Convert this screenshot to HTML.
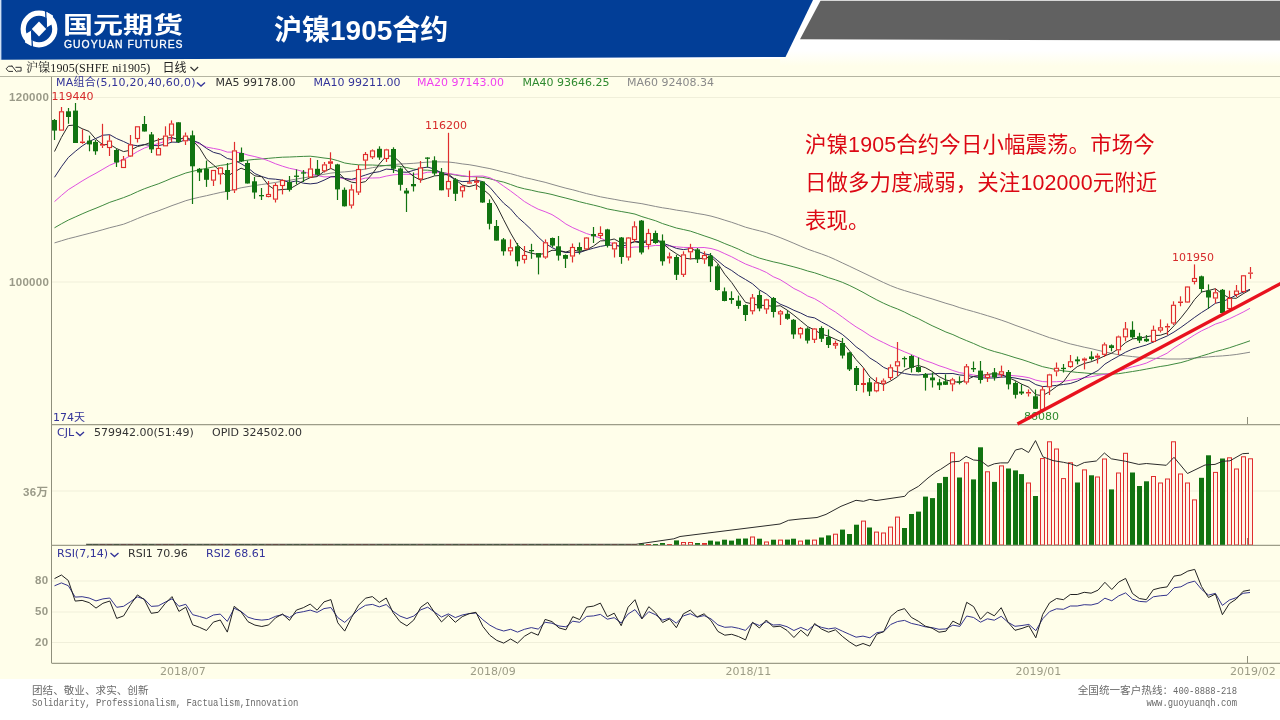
<!DOCTYPE html>
<html lang="zh-CN"><head><meta charset="utf-8"><title>沪镍1905合约</title>
<style>
html,body{margin:0;padding:0;background:#fff;}
body{width:1280px;height:720px;position:relative;overflow:hidden;font-family:"Liberation Sans","Noto Sans CJK SC",sans-serif;}
#chartbg{position:absolute;left:0;top:59px;width:1280px;height:620px;background:#fffeea;}
svg{position:absolute;left:0;top:0;}
.t{position:absolute;white-space:nowrap;line-height:1;}
.v{font-family:"DejaVu Sans","Noto Sans CJK SC",sans-serif;font-size:11px;}
.ax{font-family:"Liberation Sans","Noto Sans CJK SC",sans-serif;font-size:11.5px;color:#9a9a88;font-weight:bold;letter-spacing:0.3px;}
.dt{font-family:"DejaVu Sans",sans-serif;font-size:11px;color:#9c9c86;}
.ft{font-family:"Liberation Mono","Noto Sans CJK SC",monospace;color:#6a6a6a;}
#note{position:absolute;left:805px;top:125.5px;width:400px;font-family:"Liberation Sans","Noto Sans CJK SC",sans-serif;font-size:21.4px;line-height:38px;color:#dc0814;letter-spacing:0.15px;}
</style></head><body>
<div id="chartbg"></div><div style="position:absolute;left:780px;top:40px;width:500px;height:26px;background:linear-gradient(#fff 0%,#fff 40%,#fffeea 100%);"></div>
<svg width="1280" height="720" viewBox="0 0 1280 720">
<polygon points="820.5,0.8 1280,0.8 1280,40.6 800,39.3" fill="#616161"/>
<polygon points="1.2,0 813,0 785.5,57 1.2,59.7" fill="#023e97"/>
<rect x="0" y="0" width="1.2" height="60" fill="#cfe0f5"/>
<!-- logo -->
<g transform="translate(39,29)">
<circle r="15.8" fill="none" stroke="#fff" stroke-width="5.2"/>
<polygon points="0,-7.6 7.2,0 0,7.6 -7.2,0" fill="#fff"/>
<polygon points="7.6,-17 14,-13.5 13,-4.8 7.6,-1.6" fill="#fff"/>
<polygon points="-7.6,17 -14,13.5 -13,4.8 -7.6,1.6" fill="#fff"/>
<line x1="6.6" y1="-18.5" x2="7.4" y2="-2" stroke="#023e97" stroke-width="1.3"/>
<line x1="-6.6" y1="18.5" x2="-7.4" y2="2" stroke="#023e97" stroke-width="1.3"/>
</g>
<!-- toolbar icon -->
<g fill="none" stroke="#333" stroke-width="1">
<path d="M12.5,66.2 h-4 l-2.3,2.6 l2.3,2.6 h4.5"/><path d="M15.5,67.3 h5.6 v3.8 h-4"/><line x1="11.7" y1="65.6" x2="16.8" y2="72.2"/>
</g>
<path d="M190.5,67 l3.8,3.6 l3.8,-3.6" fill="none" stroke="#333" stroke-width="1.3"/>
<path d="M197,82.5 l4,3.6 l4,-3.6" fill="none" stroke="#333399" stroke-width="1.3"/>
<path d="M76,432 l4,3.6 l4,-3.6" fill="none" stroke="#333399" stroke-width="1.3"/>
<path d="M110.5,553 l4,3.6 l4,-3.6" fill="none" stroke="#333399" stroke-width="1.3"/>
<line x1="52" x2="1280" y1="97.5" y2="97.5" stroke="#f0efda" stroke-width="1"/>
<line x1="52" x2="1280" y1="282" y2="282" stroke="#f0efda" stroke-width="1"/>
<line x1="52" x2="1280" y1="491" y2="491" stroke="#f0efda" stroke-width="1"/>
<line x1="52" x2="1280" y1="581" y2="581" stroke="#f0efda" stroke-width="1"/>
<line x1="52" x2="1280" y1="612" y2="612" stroke="#f0efda" stroke-width="1"/>
<line x1="52" x2="1280" y1="642.5" y2="642.5" stroke="#f0efda" stroke-width="1"/>
<polyline points="54.5,242.9 61.4,240.8 68.3,238.7 75.2,237.0 82.1,235.2 89.1,233.4 96.0,231.6 102.9,229.7 109.8,227.7 116.7,226.0 123.6,224.2 130.5,221.5 137.4,218.6 144.3,215.8 151.2,213.3 158.2,210.9 165.1,208.3 172.0,205.6 178.9,203.2 185.8,200.7 192.7,198.8 199.6,197.2 206.5,195.7 213.4,194.1 220.3,192.5 227.3,191.3 234.2,189.5 241.1,187.8 248.0,186.6 254.9,185.5 261.8,184.5 268.7,183.5 275.6,182.4 282.5,181.3 289.5,180.3 296.4,179.1 303.3,177.9 310.2,176.7 317.1,175.6 324.0,174.3 330.9,173.1 337.8,172.3 344.7,171.9 351.6,171.2 358.6,170.2 365.5,169.0 372.4,167.7 379.3,166.6 386.2,165.4 393.1,164.6 400.0,164.0 406.9,163.7 413.8,163.3 420.8,162.7 427.7,162.1 434.6,161.8 441.5,161.9 448.4,162.0 455.3,162.8 462.2,163.9 469.1,164.7 476.0,165.9 482.9,167.3 489.9,168.6 496.8,170.3 503.7,172.1 510.6,173.7 517.5,175.6 524.4,177.5 531.3,179.0 538.2,180.7 545.1,182.3 552.0,184.3 559.0,186.3 565.9,188.2 572.8,189.8 579.7,191.7 586.6,193.6 593.5,195.2 600.4,196.8 607.3,198.1 614.2,199.3 621.2,200.6 628.1,201.7 635.0,202.7 641.9,203.7 648.8,205.1 655.7,206.5 662.6,207.8 669.5,208.8 676.4,210.1 683.3,211.1 690.3,212.2 697.2,213.5 704.1,214.6 711.0,216.1 717.9,218.0 724.8,220.2 731.7,222.3 738.6,224.7 745.5,227.2 752.5,229.1 759.4,230.8 766.3,232.6 773.2,235.0 780.1,237.6 787.0,240.4 793.9,243.3 800.8,246.3 807.7,249.2 814.6,251.6 821.6,254.0 828.5,256.6 835.4,259.6 842.3,262.9 849.2,266.1 856.1,269.4 863.0,272.7 869.9,276.0 876.8,279.3 883.7,282.6 890.7,285.7 897.6,288.4 904.5,290.6 911.4,292.7 918.3,294.7 925.2,296.9 932.1,298.9 939.0,301.1 945.9,303.3 952.9,305.3 959.8,307.7 966.7,309.7 973.6,311.6 980.5,313.6 987.4,315.7 994.3,317.8 1001.2,320.1 1008.1,322.5 1015.0,325.2 1022.0,327.7 1028.9,330.2 1035.8,332.7 1042.7,335.2 1049.6,337.7 1056.5,339.6 1063.4,341.9 1070.3,343.9 1077.2,345.5 1084.2,347.2 1091.1,348.6 1098.0,350.3 1104.9,351.9 1111.8,353.4 1118.7,354.8 1125.6,355.8 1132.5,356.6 1139.4,357.3 1146.3,357.9 1153.3,358.3 1160.2,358.6 1167.1,359.0 1174.0,359.0 1180.9,359.0 1187.8,358.6 1194.7,358.0 1201.6,357.5 1208.5,356.9 1215.4,356.3 1222.4,355.9 1229.3,355.3 1236.2,354.5 1243.1,353.4 1250.0,352.2" fill="none" stroke="#8a8a8a" stroke-width="1" />
<polyline points="54.5,227.8 61.4,223.8 68.3,220.1 75.2,217.0 82.1,213.9 89.1,210.9 96.0,208.2 102.9,205.3 109.8,202.3 116.7,200.0 123.6,197.6 130.5,194.9 137.4,191.7 144.3,188.8 151.2,186.3 158.2,183.9 165.1,181.1 172.0,178.1 178.9,175.6 185.8,173.0 192.7,171.3 199.6,169.7 206.5,168.4 213.4,166.9 220.3,165.4 227.3,164.5 234.2,162.6 241.1,161.1 248.0,160.1 254.9,159.4 261.8,158.9 268.7,158.3 275.6,157.7 282.5,157.2 289.5,157.0 296.4,156.7 303.3,156.4 310.2,156.2 317.1,157.0 324.0,158.0 330.9,158.8 337.8,160.7 344.7,163.0 351.6,164.1 358.6,164.8 365.5,165.0 372.4,165.0 379.3,165.4 386.2,165.6 393.1,165.7 400.0,166.4 406.9,167.6 413.8,169.1 420.8,170.0 427.7,170.2 434.6,170.9 441.5,172.2 448.4,173.7 455.3,175.0 462.2,176.2 469.1,176.6 476.0,176.8 482.9,177.4 489.9,178.8 496.8,180.6 503.7,182.1 510.6,184.5 517.5,187.0 524.4,188.8 531.3,190.2 538.2,191.8 545.1,193.0 552.0,194.5 559.0,196.4 565.9,198.1 572.8,199.9 579.7,201.8 586.6,203.5 593.5,205.1 600.4,206.8 607.3,208.9 614.2,210.2 621.2,211.5 628.1,212.7 635.0,214.1 641.9,216.6 648.8,218.7 655.7,220.8 662.6,223.6 669.5,225.8 676.4,228.0 683.3,229.5 690.3,231.1 697.2,233.4 704.1,235.8 711.0,238.1 717.9,240.6 724.8,243.6 731.7,246.3 738.6,249.2 745.5,252.6 752.5,255.5 759.4,258.1 766.3,260.0 773.2,261.8 780.1,263.3 787.0,265.1 793.9,266.9 800.8,268.8 807.7,271.0 814.6,272.8 821.6,275.2 828.5,277.7 835.4,279.8 842.3,282.3 849.2,285.3 856.1,288.7 863.0,292.3 869.9,296.2 876.8,299.9 883.7,303.3 890.7,306.4 897.6,309.0 904.5,312.1 911.4,315.6 918.3,318.6 925.2,322.2 932.1,325.7 939.0,328.8 945.9,332.0 952.9,334.6 959.8,337.8 966.7,340.7 973.6,343.5 980.5,346.6 987.4,349.3 994.3,351.5 1001.2,353.3 1008.1,355.4 1015.0,357.6 1022.0,359.6 1028.9,361.9 1035.8,364.4 1042.7,366.7 1049.6,368.2 1056.5,369.7 1063.4,370.9 1070.3,371.6 1077.2,372.4 1084.2,372.9 1091.1,373.6 1098.0,374.0 1104.9,374.0 1111.8,374.1 1118.7,373.7 1125.6,372.6 1132.5,371.5 1139.4,370.4 1146.3,369.1 1153.3,367.8 1160.2,366.5 1167.1,365.5 1174.0,364.0 1180.9,362.6 1187.8,360.6 1194.7,358.2 1201.6,356.0 1208.5,353.9 1215.4,351.6 1222.4,349.8 1229.3,347.8 1236.2,345.5 1243.1,343.2 1250.0,340.8" fill="none" stroke="#3f8a3f" stroke-width="1" />
<polyline points="54.5,201.6 61.4,195.5 68.3,189.7 75.2,185.4 82.1,181.0 89.1,176.9 96.0,173.2 102.9,169.2 109.8,165.2 116.7,162.3 123.6,159.4 130.5,155.8 137.4,151.6 144.3,148.1 151.2,145.7 158.2,143.6 165.1,141.3 172.0,138.7 178.9,138.5 185.8,139.1 192.7,140.9 199.6,143.9 206.5,147.1 213.4,148.4 220.3,149.7 227.3,152.1 234.2,152.1 241.1,152.9 248.0,155.1 254.9,156.6 261.8,158.4 268.7,160.9 275.6,163.8 282.5,166.2 289.5,168.3 296.4,169.7 303.3,171.6 310.2,173.8 317.1,175.5 324.0,176.9 330.9,176.7 337.8,177.5 344.7,178.8 351.6,179.8 358.6,179.9 365.5,178.0 372.4,178.0 379.3,177.8 386.2,176.1 393.1,174.9 400.0,174.3 406.9,174.3 413.8,174.4 420.8,173.8 427.7,172.2 434.6,172.0 441.5,172.9 448.4,173.5 455.3,174.5 462.2,175.6 469.1,176.6 476.0,176.2 482.9,176.0 489.9,177.7 496.8,181.3 503.7,186.2 510.6,191.0 517.5,196.2 524.4,201.5 531.3,205.6 538.2,209.2 545.1,211.7 552.0,214.6 559.0,219.0 565.9,224.0 572.8,227.7 579.7,230.7 586.6,233.6 593.5,235.7 600.4,238.0 607.3,241.2 614.2,244.3 621.2,247.0 628.1,247.7 635.0,247.0 641.9,247.0 648.8,246.3 655.7,245.4 662.6,245.7 669.5,246.0 676.4,246.8 683.3,247.4 690.3,247.5 697.2,247.7 704.1,247.5 711.0,248.5 717.9,250.5 724.8,253.7 731.7,256.8 738.6,260.5 745.5,264.0 752.5,266.7 759.4,269.3 766.3,272.4 773.2,276.7 780.1,279.6 787.0,283.9 793.9,288.5 800.8,291.8 807.7,296.0 814.6,298.7 821.6,302.9 828.5,307.8 835.4,312.0 842.3,317.0 849.2,322.1 856.1,326.9 863.0,331.0 869.9,335.6 876.8,339.4 883.7,342.7 890.7,346.2 897.6,348.8 904.5,351.8 911.4,354.6 918.3,357.6 925.2,360.6 932.1,362.9 939.0,365.7 945.9,367.9 952.9,370.5 959.8,372.7 966.7,373.7 973.6,375.0 980.5,376.3 987.4,376.5 994.3,376.1 1001.2,375.6 1008.1,375.2 1015.0,375.8 1022.0,376.5 1028.9,377.7 1035.8,380.1 1042.7,381.6 1049.6,381.9 1056.5,381.7 1063.4,381.3 1070.3,380.3 1077.2,379.1 1084.2,377.8 1091.1,376.8 1098.0,375.4 1104.9,374.3 1111.8,373.3 1118.7,371.1 1125.6,368.8 1132.5,366.8 1139.4,365.2 1146.3,363.1 1153.3,359.8 1160.2,356.5 1167.1,353.2 1174.0,348.0 1180.9,343.6 1187.8,339.2 1194.7,334.8 1201.6,330.8 1208.5,327.6 1215.4,324.1 1222.4,321.8 1229.3,318.8 1236.2,315.5 1243.1,312.1 1250.0,308.3" fill="none" stroke="#e050e0" stroke-width="1" />
<polyline points="54.5,177.3 61.4,166.8 68.3,157.5 75.2,151.5 82.1,146.0 89.1,141.5 96.0,138.4 102.9,135.2 109.8,134.7 116.7,138.6 123.6,141.5 130.5,144.8 137.4,145.7 144.3,144.6 151.2,145.4 158.2,145.7 165.1,144.2 172.0,142.1 178.9,142.3 185.8,139.6 192.7,140.3 199.6,143.1 206.5,148.4 213.4,152.3 220.3,154.1 227.3,158.5 234.2,159.9 241.1,163.7 248.0,167.9 254.9,173.6 261.8,176.5 268.7,178.7 275.6,179.2 282.5,180.2 289.5,182.4 296.4,180.9 303.3,183.2 310.2,183.9 317.1,183.1 324.0,180.2 330.9,176.8 337.8,176.3 344.7,178.4 351.6,179.4 358.6,177.3 365.5,175.0 372.4,172.8 379.3,171.7 386.2,169.1 393.1,169.6 400.0,171.9 406.9,172.3 413.8,170.3 420.8,168.1 427.7,167.1 434.6,169.1 441.5,173.0 448.4,175.4 455.3,179.8 462.2,181.6 469.1,181.3 476.0,180.0 482.9,181.7 489.9,187.3 496.8,195.5 503.7,203.2 510.6,208.9 517.5,217.0 524.4,223.1 531.3,229.6 538.2,237.1 545.1,243.3 552.0,247.6 559.0,250.8 565.9,252.6 572.8,252.2 579.7,252.5 586.6,250.1 593.5,248.2 600.4,246.4 607.3,245.2 614.2,245.2 621.2,246.4 628.1,244.6 635.0,241.3 641.9,241.9 648.8,240.1 655.7,240.7 662.6,243.2 669.5,245.5 676.4,248.4 683.3,249.6 690.3,248.7 697.2,250.9 704.1,253.8 711.0,255.1 717.9,260.8 724.8,266.6 731.7,270.5 738.6,275.5 745.5,279.5 752.5,283.8 759.4,289.9 766.3,293.9 773.2,299.6 780.1,304.1 787.0,306.9 793.9,310.3 800.8,313.1 807.7,316.6 814.6,317.9 821.6,322.0 828.5,325.7 835.4,330.0 842.3,334.4 849.2,340.2 856.1,346.8 863.0,351.7 869.9,358.0 876.8,362.2 883.7,367.4 890.7,370.3 897.6,371.9 904.5,373.5 911.4,374.7 918.3,375.0 925.2,374.3 932.1,374.0 939.0,373.4 945.9,373.6 952.9,373.5 959.8,375.0 966.7,375.5 973.6,376.6 980.5,377.8 987.4,378.0 994.3,378.0 1001.2,377.1 1008.1,377.0 1015.0,378.0 1022.0,379.4 1028.9,380.4 1035.8,384.6 1042.7,386.6 1049.6,386.1 1056.5,385.4 1063.4,384.5 1070.3,383.5 1077.2,381.2 1084.2,377.6 1091.1,374.1 1098.0,370.5 1104.9,364.1 1111.8,359.9 1118.7,356.1 1125.6,352.2 1132.5,349.0 1139.4,347.0 1146.3,345.0 1153.3,342.1 1160.2,338.9 1167.1,336.0 1174.0,332.0 1180.9,327.4 1187.8,322.4 1194.7,317.3 1201.6,312.5 1208.5,308.2 1215.4,303.3 1222.4,301.6 1229.3,298.7 1236.2,295.1 1243.1,292.2 1250.0,289.3" fill="none" stroke="#26265e" stroke-width="1" />
<polyline points="54.5,151.5 61.4,137.4 68.3,125.6 75.2,125.0 82.1,128.7 89.1,131.4 96.0,139.4 102.9,144.8 109.8,144.4 116.7,148.6 123.6,151.6 130.5,150.2 137.4,146.6 144.3,144.8 151.2,142.2 158.2,139.9 165.1,138.2 172.0,137.6 178.9,139.7 185.8,136.9 192.7,140.6 199.6,148.0 206.5,159.2 213.4,164.8 220.3,171.2 227.3,176.3 234.2,171.9 241.1,168.2 248.0,170.9 254.9,175.9 261.8,176.7 268.7,185.5 275.6,190.2 282.5,189.5 289.5,189.0 296.4,185.1 303.3,180.9 310.2,177.6 317.1,176.6 324.0,171.5 330.9,168.5 337.8,171.7 344.7,179.2 351.6,182.2 358.6,183.1 365.5,181.6 372.4,173.8 379.3,164.1 386.2,156.1 393.1,156.0 400.0,162.2 406.9,170.8 413.8,176.6 420.8,180.2 427.7,178.2 434.6,175.9 441.5,175.3 448.4,174.2 455.3,179.5 462.2,185.0 469.1,186.7 476.0,184.8 482.9,189.1 489.9,195.1 496.8,206.0 503.7,219.8 510.6,233.1 517.5,244.9 524.4,251.1 531.3,253.2 538.2,254.5 545.1,253.5 552.0,250.3 559.0,250.5 565.9,252.0 572.8,249.9 579.7,251.5 586.6,249.9 593.5,246.0 600.4,240.9 607.3,240.6 614.2,239.0 621.2,242.9 628.1,243.1 635.0,241.8 641.9,243.2 648.8,241.3 655.7,238.5 662.6,243.2 669.5,249.2 676.4,253.7 683.3,258.0 690.3,258.9 697.2,258.5 704.1,258.3 711.0,256.6 717.9,263.7 724.8,274.3 731.7,282.5 738.6,292.7 745.5,302.4 752.5,303.9 759.4,305.4 766.3,305.3 773.2,306.5 780.1,305.7 787.0,310.0 793.9,315.2 800.8,320.9 807.7,326.6 814.6,330.1 821.6,334.1 828.5,336.2 835.4,339.2 842.3,342.2 849.2,350.4 856.1,359.6 863.0,367.2 869.9,376.9 876.8,382.3 883.7,384.5 890.7,381.0 897.6,376.6 904.5,370.1 911.4,367.2 918.3,365.5 925.2,367.6 932.1,371.4 939.0,376.6 945.9,380.0 952.9,381.5 959.8,382.5 966.7,379.7 973.6,376.5 980.5,375.5 987.4,374.5 994.3,373.5 1001.2,374.5 1008.1,377.5 1015.0,380.5 1022.0,384.3 1028.9,387.2 1035.8,394.7 1042.7,395.7 1049.6,391.6 1056.5,386.5 1063.4,381.8 1070.3,372.3 1077.2,366.7 1084.2,363.5 1091.1,361.8 1098.0,359.1 1104.9,355.8 1111.8,353.1 1118.7,348.7 1125.6,342.6 1132.5,338.9 1139.4,338.2 1146.3,336.8 1153.3,335.5 1160.2,335.3 1167.1,333.0 1174.0,325.8 1180.9,317.9 1187.8,309.2 1194.7,299.4 1201.6,292.0 1208.5,290.5 1215.4,288.7 1222.4,294.0 1229.3,298.0 1236.2,298.3 1243.1,293.8 1250.0,289.9" fill="none" stroke="#2a2a2a" stroke-width="1" />
<line x1="54.5" x2="54.5" y1="119.0" y2="140.0" stroke="#117311" stroke-width="1.2"/>
<rect x="52.0" y="120.0" width="5.0" height="10.6" fill="#117311"/>
<line x1="61.5" x2="61.5" y1="107.0" y2="111.3" stroke="#e02d2d" stroke-width="1.2"/>
<rect x="59.5" y="111.8" width="4.0" height="18.3" fill="#fffeea" stroke="#e02d2d" stroke-width="1.15"/>
<line x1="68.5" x2="68.5" y1="108.0" y2="123.8" stroke="#117311" stroke-width="1.2"/>
<rect x="66.0" y="111.3" width="5.0" height="5.7" fill="#117311"/>
<line x1="75.5" x2="75.5" y1="103.0" y2="143.0" stroke="#117311" stroke-width="1.2"/>
<rect x="73.0" y="110.6" width="5.0" height="32.4" fill="#117311"/>
<line x1="82.5" x2="82.5" y1="129.4" y2="141.5" stroke="#e02d2d" stroke-width="1.2"/>
<line x1="82.5" x2="82.5" y1="143.0" y2="143.8" stroke="#e02d2d" stroke-width="1.2"/>
<rect x="80.0" y="141.5" width="5.0" height="1.5" fill="#e02d2d"/>
<line x1="89.5" x2="89.5" y1="135.6" y2="151.3" stroke="#117311" stroke-width="1.2"/>
<rect x="87.0" y="140.6" width="5.0" height="3.8" fill="#117311"/>
<line x1="95.5" x2="95.5" y1="140.0" y2="154.8" stroke="#117311" stroke-width="1.2"/>
<rect x="93.0" y="141.9" width="5.0" height="9.4" fill="#117311"/>
<line x1="102.5" x2="102.5" y1="123.8" y2="144.0" stroke="#e02d2d" stroke-width="1.2"/>
<line x1="102.5" x2="102.5" y1="145.6" y2="148.0" stroke="#e02d2d" stroke-width="1.2"/>
<rect x="100.0" y="144.0" width="5.0" height="1.6" fill="#e02d2d"/>
<line x1="109.5" x2="109.5" y1="135.0" y2="140.6" stroke="#e02d2d" stroke-width="1.2"/>
<line x1="109.5" x2="109.5" y1="148.0" y2="156.0" stroke="#e02d2d" stroke-width="1.2"/>
<rect x="107.5" y="141.1" width="4.0" height="6.4" fill="#fffeea" stroke="#e02d2d" stroke-width="1.15"/>
<line x1="116.5" x2="116.5" y1="148.5" y2="167.0" stroke="#117311" stroke-width="1.2"/>
<rect x="114.0" y="150.0" width="5.0" height="12.5" fill="#117311"/>
<line x1="123.5" x2="123.5" y1="156.0" y2="159.4" stroke="#e02d2d" stroke-width="1.2"/>
<rect x="121.5" y="159.9" width="4.0" height="7.6" fill="#fffeea" stroke="#e02d2d" stroke-width="1.15"/>
<line x1="130.5" x2="130.5" y1="135.0" y2="144.4" stroke="#e02d2d" stroke-width="1.2"/>
<line x1="130.5" x2="130.5" y1="156.5" y2="157.0" stroke="#e02d2d" stroke-width="1.2"/>
<rect x="128.5" y="144.9" width="4.0" height="11.1" fill="#fffeea" stroke="#e02d2d" stroke-width="1.15"/>
<line x1="137.5" x2="137.5" y1="139.0" y2="142.5" stroke="#e02d2d" stroke-width="1.2"/>
<rect x="135.5" y="126.8" width="4.0" height="11.7" fill="#fffeea" stroke="#e02d2d" stroke-width="1.15"/>
<line x1="144.5" x2="144.5" y1="116.0" y2="131.5" stroke="#117311" stroke-width="1.2"/>
<rect x="142.0" y="124.0" width="5.0" height="7.5" fill="#117311"/>
<line x1="151.5" x2="151.5" y1="132.0" y2="153.0" stroke="#117311" stroke-width="1.2"/>
<rect x="149.0" y="134.4" width="5.0" height="15.0" fill="#117311"/>
<line x1="158.5" x2="158.5" y1="138.0" y2="148.0" stroke="#e02d2d" stroke-width="1.2"/>
<rect x="156.5" y="148.5" width="4.0" height="6.4" fill="#fffeea" stroke="#e02d2d" stroke-width="1.15"/>
<line x1="165.5" x2="165.5" y1="126.3" y2="135.6" stroke="#e02d2d" stroke-width="1.2"/>
<rect x="163.5" y="136.1" width="4.0" height="9.7" fill="#fffeea" stroke="#e02d2d" stroke-width="1.15"/>
<line x1="171.5" x2="171.5" y1="120.4" y2="123.5" stroke="#e02d2d" stroke-width="1.2"/>
<line x1="171.5" x2="171.5" y1="135.6" y2="142.0" stroke="#e02d2d" stroke-width="1.2"/>
<rect x="169.5" y="124.0" width="4.0" height="11.1" fill="#fffeea" stroke="#e02d2d" stroke-width="1.15"/>
<line x1="178.5" x2="178.5" y1="122.3" y2="143.0" stroke="#117311" stroke-width="1.2"/>
<rect x="176.0" y="122.3" width="5.0" height="19.7" fill="#117311"/>
<line x1="185.5" x2="185.5" y1="132.5" y2="135.6" stroke="#e02d2d" stroke-width="1.2"/>
<line x1="185.5" x2="185.5" y1="141.3" y2="145.0" stroke="#e02d2d" stroke-width="1.2"/>
<rect x="183.5" y="136.1" width="4.0" height="4.7" fill="#fffeea" stroke="#e02d2d" stroke-width="1.15"/>
<line x1="192.5" x2="192.5" y1="130.6" y2="204.0" stroke="#117311" stroke-width="1.2"/>
<rect x="190.0" y="135.3" width="5.0" height="31.0" fill="#117311"/>
<line x1="199.5" x2="199.5" y1="168.0" y2="181.0" stroke="#117311" stroke-width="1.2"/>
<rect x="197.0" y="168.8" width="5.0" height="3.7" fill="#117311"/>
<line x1="206.5" x2="206.5" y1="160.6" y2="186.9" stroke="#117311" stroke-width="1.2"/>
<rect x="204.0" y="168.8" width="5.0" height="11.0" fill="#117311"/>
<line x1="213.5" x2="213.5" y1="180.6" y2="186.0" stroke="#e02d2d" stroke-width="1.2"/>
<rect x="211.5" y="170.5" width="4.0" height="9.6" fill="#fffeea" stroke="#e02d2d" stroke-width="1.15"/>
<line x1="220.5" x2="220.5" y1="167.0" y2="167.5" stroke="#e02d2d" stroke-width="1.2"/>
<line x1="220.5" x2="220.5" y1="174.4" y2="184.4" stroke="#e02d2d" stroke-width="1.2"/>
<rect x="218.5" y="168.0" width="4.0" height="5.9" fill="#fffeea" stroke="#e02d2d" stroke-width="1.15"/>
<line x1="227.5" x2="227.5" y1="163.0" y2="199.8" stroke="#117311" stroke-width="1.2"/>
<rect x="225.0" y="170.0" width="5.0" height="21.9" fill="#117311"/>
<line x1="234.5" x2="234.5" y1="141.9" y2="150.4" stroke="#e02d2d" stroke-width="1.2"/>
<line x1="234.5" x2="234.5" y1="190.3" y2="193.0" stroke="#e02d2d" stroke-width="1.2"/>
<rect x="232.5" y="150.9" width="4.0" height="38.9" fill="#fffeea" stroke="#e02d2d" stroke-width="1.15"/>
<line x1="241.5" x2="241.5" y1="147.5" y2="162.0" stroke="#117311" stroke-width="1.2"/>
<rect x="239.0" y="153.0" width="5.0" height="8.3" fill="#117311"/>
<line x1="247.5" x2="247.5" y1="160.6" y2="183.5" stroke="#117311" stroke-width="1.2"/>
<rect x="245.0" y="163.0" width="5.0" height="20.5" fill="#117311"/>
<line x1="254.5" x2="254.5" y1="177.0" y2="198.8" stroke="#117311" stroke-width="1.2"/>
<rect x="252.0" y="181.3" width="5.0" height="11.2" fill="#117311"/>
<line x1="261.5" x2="261.5" y1="188.0" y2="200.0" stroke="#117311" stroke-width="1.2"/>
<rect x="259.0" y="195.0" width="5.0" height="1.3" fill="#117311"/>
<line x1="268.5" x2="268.5" y1="181.0" y2="194.0" stroke="#e02d2d" stroke-width="1.2"/>
<line x1="268.5" x2="268.5" y1="197.0" y2="197.3" stroke="#e02d2d" stroke-width="1.2"/>
<rect x="266.5" y="194.5" width="4.0" height="2.0" fill="#fffeea" stroke="#e02d2d" stroke-width="1.15"/>
<line x1="275.5" x2="275.5" y1="183.0" y2="185.0" stroke="#e02d2d" stroke-width="1.2"/>
<line x1="275.5" x2="275.5" y1="199.6" y2="202.5" stroke="#e02d2d" stroke-width="1.2"/>
<rect x="273.5" y="185.5" width="4.0" height="13.6" fill="#fffeea" stroke="#e02d2d" stroke-width="1.15"/>
<line x1="282.5" x2="282.5" y1="179.4" y2="180.0" stroke="#e02d2d" stroke-width="1.2"/>
<line x1="282.5" x2="282.5" y1="186.0" y2="194.4" stroke="#e02d2d" stroke-width="1.2"/>
<rect x="280.5" y="180.5" width="4.0" height="5.0" fill="#fffeea" stroke="#e02d2d" stroke-width="1.15"/>
<line x1="289.5" x2="289.5" y1="176.0" y2="191.5" stroke="#117311" stroke-width="1.2"/>
<rect x="287.0" y="182.0" width="5.0" height="7.8" fill="#117311"/>
<line x1="296.5" x2="296.5" y1="169.4" y2="184.4" stroke="#117311" stroke-width="1.2"/>
<rect x="294.0" y="175.6" width="5.0" height="1.3" fill="#117311"/>
<line x1="303.5" x2="303.5" y1="170.0" y2="182.0" stroke="#117311" stroke-width="1.2"/>
<rect x="301.0" y="172.3" width="5.0" height="1.3" fill="#117311"/>
<line x1="310.5" x2="310.5" y1="158.0" y2="168.5" stroke="#e02d2d" stroke-width="1.2"/>
<line x1="310.5" x2="310.5" y1="177.5" y2="178.0" stroke="#e02d2d" stroke-width="1.2"/>
<rect x="308.5" y="169.0" width="4.0" height="8.0" fill="#fffeea" stroke="#e02d2d" stroke-width="1.15"/>
<line x1="317.5" x2="317.5" y1="160.0" y2="175.6" stroke="#117311" stroke-width="1.2"/>
<rect x="315.0" y="168.8" width="5.0" height="6.0" fill="#117311"/>
<line x1="324.5" x2="324.5" y1="162.0" y2="164.4" stroke="#e02d2d" stroke-width="1.2"/>
<line x1="324.5" x2="324.5" y1="171.3" y2="172.5" stroke="#e02d2d" stroke-width="1.2"/>
<rect x="322.5" y="164.9" width="4.0" height="5.9" fill="#fffeea" stroke="#e02d2d" stroke-width="1.15"/>
<line x1="330.5" x2="330.5" y1="152.3" y2="161.3" stroke="#e02d2d" stroke-width="1.2"/>
<line x1="330.5" x2="330.5" y1="163.8" y2="169.0" stroke="#e02d2d" stroke-width="1.2"/>
<rect x="328.0" y="161.3" width="5.0" height="2.5" fill="#e02d2d"/>
<line x1="337.5" x2="337.5" y1="163.8" y2="200.0" stroke="#117311" stroke-width="1.2"/>
<rect x="335.0" y="164.4" width="5.0" height="25.0" fill="#117311"/>
<line x1="344.5" x2="344.5" y1="187.5" y2="206.5" stroke="#117311" stroke-width="1.2"/>
<rect x="342.0" y="189.8" width="5.0" height="16.5" fill="#117311"/>
<line x1="351.5" x2="351.5" y1="184.4" y2="189.4" stroke="#e02d2d" stroke-width="1.2"/>
<line x1="351.5" x2="351.5" y1="205.6" y2="208.5" stroke="#e02d2d" stroke-width="1.2"/>
<rect x="349.5" y="189.9" width="4.0" height="15.2" fill="#fffeea" stroke="#e02d2d" stroke-width="1.15"/>
<line x1="358.5" x2="358.5" y1="165.0" y2="169.0" stroke="#e02d2d" stroke-width="1.2"/>
<line x1="358.5" x2="358.5" y1="192.5" y2="195.0" stroke="#e02d2d" stroke-width="1.2"/>
<rect x="356.5" y="169.5" width="4.0" height="22.5" fill="#fffeea" stroke="#e02d2d" stroke-width="1.15"/>
<line x1="365.5" x2="365.5" y1="152.0" y2="154.0" stroke="#e02d2d" stroke-width="1.2"/>
<line x1="365.5" x2="365.5" y1="160.6" y2="169.4" stroke="#e02d2d" stroke-width="1.2"/>
<rect x="363.5" y="154.5" width="4.0" height="5.6" fill="#fffeea" stroke="#e02d2d" stroke-width="1.15"/>
<line x1="372.5" x2="372.5" y1="149.4" y2="150.4" stroke="#e02d2d" stroke-width="1.2"/>
<line x1="372.5" x2="372.5" y1="157.3" y2="159.0" stroke="#e02d2d" stroke-width="1.2"/>
<rect x="370.5" y="150.9" width="4.0" height="5.9" fill="#fffeea" stroke="#e02d2d" stroke-width="1.15"/>
<line x1="379.5" x2="379.5" y1="146.3" y2="159.8" stroke="#117311" stroke-width="1.2"/>
<rect x="377.0" y="148.8" width="5.0" height="8.7" fill="#117311"/>
<line x1="386.5" x2="386.5" y1="148.8" y2="149.4" stroke="#e02d2d" stroke-width="1.2"/>
<line x1="386.5" x2="386.5" y1="159.0" y2="162.0" stroke="#e02d2d" stroke-width="1.2"/>
<rect x="384.5" y="149.9" width="4.0" height="8.6" fill="#fffeea" stroke="#e02d2d" stroke-width="1.15"/>
<line x1="393.5" x2="393.5" y1="147.3" y2="173.0" stroke="#117311" stroke-width="1.2"/>
<rect x="391.0" y="149.0" width="5.0" height="19.8" fill="#117311"/>
<line x1="400.5" x2="400.5" y1="167.5" y2="190.6" stroke="#117311" stroke-width="1.2"/>
<rect x="398.0" y="168.5" width="5.0" height="16.3" fill="#117311"/>
<line x1="406.5" x2="406.5" y1="188.0" y2="212.0" stroke="#117311" stroke-width="1.2"/>
<rect x="404.0" y="190.6" width="5.0" height="2.9" fill="#117311"/>
<line x1="413.5" x2="413.5" y1="172.5" y2="191.5" stroke="#117311" stroke-width="1.2"/>
<rect x="411.0" y="184.0" width="5.0" height="2.3" fill="#117311"/>
<line x1="420.5" x2="420.5" y1="161.0" y2="167.5" stroke="#e02d2d" stroke-width="1.2"/>
<line x1="420.5" x2="420.5" y1="179.4" y2="182.8" stroke="#e02d2d" stroke-width="1.2"/>
<rect x="418.5" y="168.0" width="4.0" height="10.9" fill="#fffeea" stroke="#e02d2d" stroke-width="1.15"/>
<line x1="427.5" x2="427.5" y1="157.3" y2="167.5" stroke="#117311" stroke-width="1.2"/>
<rect x="425.0" y="157.5" width="5.0" height="1.3" fill="#117311"/>
<line x1="434.5" x2="434.5" y1="156.3" y2="175.6" stroke="#117311" stroke-width="1.2"/>
<rect x="432.0" y="160.3" width="5.0" height="13.2" fill="#117311"/>
<line x1="441.5" x2="441.5" y1="168.0" y2="190.3" stroke="#117311" stroke-width="1.2"/>
<rect x="439.0" y="172.3" width="5.0" height="18.0" fill="#117311"/>
<line x1="448.5" x2="448.5" y1="132.8" y2="181.0" stroke="#e02d2d" stroke-width="1.2"/>
<line x1="448.5" x2="448.5" y1="189.4" y2="197.0" stroke="#e02d2d" stroke-width="1.2"/>
<rect x="446.5" y="181.5" width="4.0" height="7.4" fill="#fffeea" stroke="#e02d2d" stroke-width="1.15"/>
<line x1="455.5" x2="455.5" y1="178.0" y2="201.0" stroke="#117311" stroke-width="1.2"/>
<rect x="453.0" y="179.4" width="5.0" height="14.4" fill="#117311"/>
<line x1="462.5" x2="462.5" y1="185.0" y2="186.3" stroke="#e02d2d" stroke-width="1.2"/>
<line x1="462.5" x2="462.5" y1="191.3" y2="197.5" stroke="#e02d2d" stroke-width="1.2"/>
<rect x="460.5" y="186.8" width="4.0" height="4.0" fill="#fffeea" stroke="#e02d2d" stroke-width="1.15"/>
<line x1="469.5" x2="469.5" y1="170.6" y2="182.3" stroke="#e02d2d" stroke-width="1.2"/>
<line x1="469.5" x2="469.5" y1="183.5" y2="183.8" stroke="#e02d2d" stroke-width="1.2"/>
<rect x="467.0" y="182.3" width="5.0" height="1.3" fill="#e02d2d"/>
<line x1="476.5" x2="476.5" y1="177.0" y2="180.6" stroke="#e02d2d" stroke-width="1.2"/>
<line x1="476.5" x2="476.5" y1="182.8" y2="189.8" stroke="#e02d2d" stroke-width="1.2"/>
<rect x="474.0" y="180.6" width="5.0" height="2.2" fill="#e02d2d"/>
<line x1="482.5" x2="482.5" y1="181.0" y2="202.8" stroke="#117311" stroke-width="1.2"/>
<rect x="480.0" y="181.5" width="5.0" height="21.0" fill="#117311"/>
<line x1="489.5" x2="489.5" y1="199.4" y2="229.4" stroke="#117311" stroke-width="1.2"/>
<rect x="487.0" y="203.0" width="5.0" height="20.8" fill="#117311"/>
<line x1="496.5" x2="496.5" y1="220.0" y2="240.6" stroke="#117311" stroke-width="1.2"/>
<rect x="494.0" y="226.0" width="5.0" height="14.6" fill="#117311"/>
<line x1="503.5" x2="503.5" y1="238.0" y2="255.6" stroke="#117311" stroke-width="1.2"/>
<rect x="501.0" y="239.4" width="5.0" height="11.9" fill="#117311"/>
<line x1="510.5" x2="510.5" y1="239.4" y2="247.3" stroke="#e02d2d" stroke-width="1.2"/>
<line x1="510.5" x2="510.5" y1="251.3" y2="255.6" stroke="#e02d2d" stroke-width="1.2"/>
<rect x="508.5" y="247.8" width="4.0" height="3.0" fill="#fffeea" stroke="#e02d2d" stroke-width="1.15"/>
<line x1="517.5" x2="517.5" y1="243.0" y2="266.3" stroke="#117311" stroke-width="1.2"/>
<rect x="515.0" y="246.3" width="5.0" height="15.0" fill="#117311"/>
<line x1="524.5" x2="524.5" y1="246.0" y2="255.0" stroke="#e02d2d" stroke-width="1.2"/>
<line x1="524.5" x2="524.5" y1="259.8" y2="263.5" stroke="#e02d2d" stroke-width="1.2"/>
<rect x="522.5" y="255.5" width="4.0" height="3.8" fill="#fffeea" stroke="#e02d2d" stroke-width="1.15"/>
<line x1="531.5" x2="531.5" y1="243.8" y2="258.8" stroke="#117311" stroke-width="1.2"/>
<rect x="529.0" y="250.0" width="5.0" height="1.3" fill="#117311"/>
<line x1="538.5" x2="538.5" y1="253.0" y2="274.4" stroke="#117311" stroke-width="1.2"/>
<rect x="536.0" y="253.0" width="5.0" height="4.5" fill="#117311"/>
<line x1="545.5" x2="545.5" y1="239.4" y2="242.3" stroke="#e02d2d" stroke-width="1.2"/>
<line x1="545.5" x2="545.5" y1="257.5" y2="258.8" stroke="#e02d2d" stroke-width="1.2"/>
<rect x="543.5" y="242.8" width="4.0" height="14.2" fill="#fffeea" stroke="#e02d2d" stroke-width="1.15"/>
<line x1="552.5" x2="552.5" y1="237.5" y2="247.0" stroke="#117311" stroke-width="1.2"/>
<rect x="550.0" y="238.0" width="5.0" height="7.6" fill="#117311"/>
<line x1="558.5" x2="558.5" y1="236.0" y2="260.6" stroke="#117311" stroke-width="1.2"/>
<rect x="556.0" y="246.3" width="5.0" height="9.3" fill="#117311"/>
<line x1="565.5" x2="565.5" y1="254.4" y2="268.0" stroke="#117311" stroke-width="1.2"/>
<rect x="563.0" y="255.0" width="5.0" height="3.8" fill="#117311"/>
<line x1="572.5" x2="572.5" y1="243.5" y2="247.0" stroke="#e02d2d" stroke-width="1.2"/>
<line x1="572.5" x2="572.5" y1="256.5" y2="262.5" stroke="#e02d2d" stroke-width="1.2"/>
<rect x="570.5" y="247.5" width="4.0" height="8.5" fill="#fffeea" stroke="#e02d2d" stroke-width="1.15"/>
<line x1="579.5" x2="579.5" y1="242.5" y2="254.4" stroke="#117311" stroke-width="1.2"/>
<rect x="577.0" y="247.0" width="5.0" height="3.6" fill="#117311"/>
<line x1="586.5" x2="586.5" y1="237.0" y2="237.5" stroke="#e02d2d" stroke-width="1.2"/>
<line x1="586.5" x2="586.5" y1="249.4" y2="250.0" stroke="#e02d2d" stroke-width="1.2"/>
<rect x="584.5" y="238.0" width="4.0" height="10.9" fill="#fffeea" stroke="#e02d2d" stroke-width="1.15"/>
<line x1="593.5" x2="593.5" y1="227.0" y2="243.0" stroke="#117311" stroke-width="1.2"/>
<rect x="591.0" y="234.0" width="5.0" height="2.3" fill="#117311"/>
<line x1="600.5" x2="600.5" y1="226.3" y2="233.0" stroke="#e02d2d" stroke-width="1.2"/>
<line x1="600.5" x2="600.5" y1="236.0" y2="238.8" stroke="#e02d2d" stroke-width="1.2"/>
<rect x="598.5" y="233.5" width="4.0" height="2.0" fill="#fffeea" stroke="#e02d2d" stroke-width="1.15"/>
<line x1="607.5" x2="607.5" y1="228.8" y2="247.5" stroke="#117311" stroke-width="1.2"/>
<rect x="605.0" y="229.4" width="5.0" height="16.2" fill="#117311"/>
<line x1="614.5" x2="614.5" y1="242.0" y2="242.5" stroke="#e02d2d" stroke-width="1.2"/>
<line x1="614.5" x2="614.5" y1="249.4" y2="257.5" stroke="#e02d2d" stroke-width="1.2"/>
<rect x="612.5" y="243.0" width="4.0" height="5.9" fill="#fffeea" stroke="#e02d2d" stroke-width="1.15"/>
<line x1="621.5" x2="621.5" y1="237.0" y2="263.8" stroke="#117311" stroke-width="1.2"/>
<rect x="619.0" y="237.5" width="5.0" height="19.5" fill="#117311"/>
<line x1="628.5" x2="628.5" y1="237.0" y2="237.5" stroke="#e02d2d" stroke-width="1.2"/>
<line x1="628.5" x2="628.5" y1="257.5" y2="260.6" stroke="#e02d2d" stroke-width="1.2"/>
<rect x="626.5" y="238.0" width="4.0" height="19.0" fill="#fffeea" stroke="#e02d2d" stroke-width="1.15"/>
<line x1="634.5" x2="634.5" y1="221.3" y2="226.3" stroke="#e02d2d" stroke-width="1.2"/>
<line x1="634.5" x2="634.5" y1="240.0" y2="242.0" stroke="#e02d2d" stroke-width="1.2"/>
<rect x="632.5" y="226.8" width="4.0" height="12.7" fill="#fffeea" stroke="#e02d2d" stroke-width="1.15"/>
<line x1="641.5" x2="641.5" y1="220.0" y2="254.4" stroke="#117311" stroke-width="1.2"/>
<rect x="639.0" y="220.6" width="5.0" height="31.9" fill="#117311"/>
<line x1="648.5" x2="648.5" y1="228.8" y2="233.0" stroke="#e02d2d" stroke-width="1.2"/>
<line x1="648.5" x2="648.5" y1="245.0" y2="249.4" stroke="#e02d2d" stroke-width="1.2"/>
<rect x="646.5" y="233.5" width="4.0" height="11.0" fill="#fffeea" stroke="#e02d2d" stroke-width="1.15"/>
<line x1="655.5" x2="655.5" y1="230.6" y2="243.8" stroke="#117311" stroke-width="1.2"/>
<rect x="653.0" y="233.0" width="5.0" height="10.0" fill="#117311"/>
<line x1="662.5" x2="662.5" y1="234.4" y2="265.6" stroke="#117311" stroke-width="1.2"/>
<rect x="660.0" y="240.6" width="5.0" height="20.7" fill="#117311"/>
<line x1="669.5" x2="669.5" y1="252.5" y2="256.3" stroke="#e02d2d" stroke-width="1.2"/>
<line x1="669.5" x2="669.5" y1="258.5" y2="263.5" stroke="#e02d2d" stroke-width="1.2"/>
<rect x="667.0" y="256.3" width="5.0" height="2.2" fill="#e02d2d"/>
<line x1="676.5" x2="676.5" y1="254.8" y2="280.0" stroke="#117311" stroke-width="1.2"/>
<rect x="674.0" y="257.0" width="5.0" height="17.8" fill="#117311"/>
<line x1="683.5" x2="683.5" y1="251.3" y2="254.4" stroke="#e02d2d" stroke-width="1.2"/>
<line x1="683.5" x2="683.5" y1="274.8" y2="277.0" stroke="#e02d2d" stroke-width="1.2"/>
<rect x="681.5" y="254.9" width="4.0" height="19.4" fill="#fffeea" stroke="#e02d2d" stroke-width="1.15"/>
<line x1="690.5" x2="690.5" y1="243.8" y2="247.8" stroke="#e02d2d" stroke-width="1.2"/>
<line x1="690.5" x2="690.5" y1="252.3" y2="259.4" stroke="#e02d2d" stroke-width="1.2"/>
<rect x="688.5" y="248.3" width="4.0" height="3.5" fill="#fffeea" stroke="#e02d2d" stroke-width="1.15"/>
<line x1="697.5" x2="697.5" y1="248.0" y2="263.0" stroke="#117311" stroke-width="1.2"/>
<rect x="695.0" y="249.4" width="5.0" height="10.0" fill="#117311"/>
<line x1="704.5" x2="704.5" y1="251.3" y2="255.0" stroke="#e02d2d" stroke-width="1.2"/>
<line x1="704.5" x2="704.5" y1="259.4" y2="263.8" stroke="#e02d2d" stroke-width="1.2"/>
<rect x="702.5" y="255.5" width="4.0" height="3.4" fill="#fffeea" stroke="#e02d2d" stroke-width="1.15"/>
<line x1="710.5" x2="710.5" y1="253.0" y2="282.0" stroke="#117311" stroke-width="1.2"/>
<rect x="708.0" y="255.6" width="5.0" height="10.7" fill="#117311"/>
<line x1="717.5" x2="717.5" y1="264.4" y2="290.6" stroke="#117311" stroke-width="1.2"/>
<rect x="715.0" y="266.3" width="5.0" height="23.7" fill="#117311"/>
<line x1="724.5" x2="724.5" y1="287.5" y2="301.3" stroke="#117311" stroke-width="1.2"/>
<rect x="722.0" y="291.3" width="5.0" height="9.7" fill="#117311"/>
<line x1="731.5" x2="731.5" y1="291.3" y2="303.8" stroke="#117311" stroke-width="1.2"/>
<rect x="729.0" y="298.0" width="5.0" height="2.0" fill="#117311"/>
<line x1="738.5" x2="738.5" y1="295.6" y2="308.8" stroke="#117311" stroke-width="1.2"/>
<rect x="736.0" y="300.6" width="5.0" height="5.4" fill="#117311"/>
<line x1="745.5" x2="745.5" y1="304.4" y2="321.0" stroke="#117311" stroke-width="1.2"/>
<rect x="743.0" y="305.0" width="5.0" height="10.0" fill="#117311"/>
<line x1="752.5" x2="752.5" y1="294.0" y2="297.5" stroke="#e02d2d" stroke-width="1.2"/>
<line x1="752.5" x2="752.5" y1="311.3" y2="314.4" stroke="#e02d2d" stroke-width="1.2"/>
<rect x="750.5" y="298.0" width="4.0" height="12.8" fill="#fffeea" stroke="#e02d2d" stroke-width="1.15"/>
<line x1="759.5" x2="759.5" y1="290.6" y2="311.3" stroke="#117311" stroke-width="1.2"/>
<rect x="757.0" y="295.0" width="5.0" height="13.5" fill="#117311"/>
<line x1="766.5" x2="766.5" y1="298.8" y2="299.4" stroke="#e02d2d" stroke-width="1.2"/>
<line x1="766.5" x2="766.5" y1="309.4" y2="313.8" stroke="#e02d2d" stroke-width="1.2"/>
<rect x="764.5" y="299.9" width="4.0" height="9.0" fill="#fffeea" stroke="#e02d2d" stroke-width="1.15"/>
<line x1="773.5" x2="773.5" y1="297.0" y2="317.5" stroke="#117311" stroke-width="1.2"/>
<rect x="771.0" y="298.0" width="5.0" height="14.0" fill="#117311"/>
<line x1="780.5" x2="780.5" y1="310.0" y2="311.3" stroke="#e02d2d" stroke-width="1.2"/>
<line x1="780.5" x2="780.5" y1="314.4" y2="325.0" stroke="#e02d2d" stroke-width="1.2"/>
<rect x="778.5" y="311.8" width="4.0" height="2.1" fill="#fffeea" stroke="#e02d2d" stroke-width="1.15"/>
<line x1="787.5" x2="787.5" y1="310.6" y2="319.8" stroke="#117311" stroke-width="1.2"/>
<rect x="785.0" y="313.8" width="5.0" height="5.0" fill="#117311"/>
<line x1="793.5" x2="793.5" y1="319.0" y2="338.8" stroke="#117311" stroke-width="1.2"/>
<rect x="791.0" y="319.8" width="5.0" height="14.6" fill="#117311"/>
<line x1="800.5" x2="800.5" y1="327.0" y2="328.0" stroke="#e02d2d" stroke-width="1.2"/>
<line x1="800.5" x2="800.5" y1="334.4" y2="338.5" stroke="#e02d2d" stroke-width="1.2"/>
<rect x="798.5" y="328.5" width="4.0" height="5.4" fill="#fffeea" stroke="#e02d2d" stroke-width="1.15"/>
<line x1="807.5" x2="807.5" y1="327.3" y2="343.5" stroke="#117311" stroke-width="1.2"/>
<rect x="805.0" y="328.5" width="5.0" height="12.1" fill="#117311"/>
<line x1="814.5" x2="814.5" y1="328.0" y2="328.5" stroke="#e02d2d" stroke-width="1.2"/>
<line x1="814.5" x2="814.5" y1="339.8" y2="343.0" stroke="#e02d2d" stroke-width="1.2"/>
<rect x="812.5" y="329.0" width="4.0" height="10.3" fill="#fffeea" stroke="#e02d2d" stroke-width="1.15"/>
<line x1="821.5" x2="821.5" y1="326.3" y2="342.0" stroke="#117311" stroke-width="1.2"/>
<rect x="819.0" y="328.0" width="5.0" height="10.8" fill="#117311"/>
<line x1="828.5" x2="828.5" y1="329.4" y2="348.0" stroke="#117311" stroke-width="1.2"/>
<rect x="826.0" y="337.0" width="5.0" height="8.0" fill="#117311"/>
<line x1="835.5" x2="835.5" y1="340.6" y2="343.0" stroke="#e02d2d" stroke-width="1.2"/>
<line x1="835.5" x2="835.5" y1="345.6" y2="348.8" stroke="#e02d2d" stroke-width="1.2"/>
<rect x="833.5" y="343.5" width="4.0" height="1.6" fill="#fffeea" stroke="#e02d2d" stroke-width="1.15"/>
<line x1="842.5" x2="842.5" y1="338.0" y2="358.5" stroke="#117311" stroke-width="1.2"/>
<rect x="840.0" y="343.0" width="5.0" height="12.6" fill="#117311"/>
<line x1="849.5" x2="849.5" y1="352.0" y2="371.0" stroke="#117311" stroke-width="1.2"/>
<rect x="847.0" y="352.5" width="5.0" height="16.9" fill="#117311"/>
<line x1="856.5" x2="856.5" y1="366.0" y2="391.0" stroke="#117311" stroke-width="1.2"/>
<rect x="854.0" y="368.0" width="5.0" height="17.0" fill="#117311"/>
<line x1="863.5" x2="863.5" y1="368.0" y2="383.0" stroke="#e02d2d" stroke-width="1.2"/>
<line x1="863.5" x2="863.5" y1="385.0" y2="392.5" stroke="#e02d2d" stroke-width="1.2"/>
<rect x="861.0" y="383.0" width="5.0" height="2.0" fill="#e02d2d"/>
<line x1="869.5" x2="869.5" y1="378.0" y2="396.0" stroke="#117311" stroke-width="1.2"/>
<rect x="867.0" y="382.3" width="5.0" height="9.2" fill="#117311"/>
<line x1="876.5" x2="876.5" y1="377.3" y2="382.5" stroke="#e02d2d" stroke-width="1.2"/>
<line x1="876.5" x2="876.5" y1="391.3" y2="392.3" stroke="#e02d2d" stroke-width="1.2"/>
<rect x="874.5" y="383.0" width="4.0" height="7.8" fill="#fffeea" stroke="#e02d2d" stroke-width="1.15"/>
<line x1="883.5" x2="883.5" y1="378.5" y2="380.6" stroke="#e02d2d" stroke-width="1.2"/>
<line x1="883.5" x2="883.5" y1="383.8" y2="391.0" stroke="#e02d2d" stroke-width="1.2"/>
<rect x="881.5" y="381.1" width="4.0" height="2.2" fill="#fffeea" stroke="#e02d2d" stroke-width="1.15"/>
<line x1="890.5" x2="890.5" y1="364.4" y2="367.3" stroke="#e02d2d" stroke-width="1.2"/>
<line x1="890.5" x2="890.5" y1="378.0" y2="380.0" stroke="#e02d2d" stroke-width="1.2"/>
<rect x="888.5" y="367.8" width="4.0" height="9.7" fill="#fffeea" stroke="#e02d2d" stroke-width="1.15"/>
<line x1="897.5" x2="897.5" y1="342.0" y2="361.3" stroke="#e02d2d" stroke-width="1.2"/>
<line x1="897.5" x2="897.5" y1="366.3" y2="376.0" stroke="#e02d2d" stroke-width="1.2"/>
<rect x="895.5" y="361.8" width="4.0" height="4.0" fill="#fffeea" stroke="#e02d2d" stroke-width="1.15"/>
<line x1="904.5" x2="904.5" y1="356.5" y2="367.3" stroke="#117311" stroke-width="1.2"/>
<rect x="902.0" y="358.0" width="5.0" height="1.3" fill="#117311"/>
<line x1="911.5" x2="911.5" y1="354.8" y2="372.5" stroke="#117311" stroke-width="1.2"/>
<rect x="909.0" y="356.0" width="5.0" height="11.8" fill="#117311"/>
<line x1="918.5" x2="918.5" y1="357.5" y2="372.5" stroke="#117311" stroke-width="1.2"/>
<rect x="916.0" y="367.0" width="5.0" height="5.0" fill="#117311"/>
<line x1="925.5" x2="925.5" y1="373.0" y2="390.6" stroke="#117311" stroke-width="1.2"/>
<rect x="923.0" y="374.0" width="5.0" height="3.8" fill="#117311"/>
<line x1="932.5" x2="932.5" y1="372.5" y2="387.5" stroke="#117311" stroke-width="1.2"/>
<rect x="930.0" y="377.5" width="5.0" height="2.8" fill="#117311"/>
<line x1="939.5" x2="939.5" y1="378.8" y2="390.0" stroke="#117311" stroke-width="1.2"/>
<rect x="937.0" y="382.3" width="5.0" height="3.0" fill="#117311"/>
<line x1="945.5" x2="945.5" y1="374.4" y2="385.0" stroke="#117311" stroke-width="1.2"/>
<rect x="943.0" y="381.3" width="5.0" height="3.5" fill="#117311"/>
<line x1="952.5" x2="952.5" y1="377.8" y2="379.4" stroke="#e02d2d" stroke-width="1.2"/>
<line x1="952.5" x2="952.5" y1="384.4" y2="391.3" stroke="#e02d2d" stroke-width="1.2"/>
<rect x="950.5" y="379.9" width="4.0" height="4.0" fill="#fffeea" stroke="#e02d2d" stroke-width="1.15"/>
<line x1="959.5" x2="959.5" y1="376.3" y2="384.4" stroke="#117311" stroke-width="1.2"/>
<rect x="957.0" y="381.3" width="5.0" height="1.3" fill="#117311"/>
<line x1="966.5" x2="966.5" y1="364.0" y2="366.3" stroke="#e02d2d" stroke-width="1.2"/>
<line x1="966.5" x2="966.5" y1="382.5" y2="384.4" stroke="#e02d2d" stroke-width="1.2"/>
<rect x="964.5" y="366.8" width="4.0" height="15.2" fill="#fffeea" stroke="#e02d2d" stroke-width="1.15"/>
<line x1="973.5" x2="973.5" y1="361.5" y2="372.0" stroke="#117311" stroke-width="1.2"/>
<rect x="971.0" y="368.0" width="5.0" height="1.4" fill="#117311"/>
<line x1="980.5" x2="980.5" y1="361.0" y2="383.5" stroke="#117311" stroke-width="1.2"/>
<rect x="978.0" y="370.6" width="5.0" height="9.4" fill="#117311"/>
<line x1="987.5" x2="987.5" y1="372.0" y2="374.4" stroke="#e02d2d" stroke-width="1.2"/>
<line x1="987.5" x2="987.5" y1="378.0" y2="382.0" stroke="#e02d2d" stroke-width="1.2"/>
<rect x="985.5" y="374.9" width="4.0" height="2.6" fill="#fffeea" stroke="#e02d2d" stroke-width="1.15"/>
<line x1="994.5" x2="994.5" y1="368.0" y2="380.6" stroke="#117311" stroke-width="1.2"/>
<rect x="992.0" y="372.3" width="5.0" height="5.2" fill="#117311"/>
<line x1="1001.5" x2="1001.5" y1="365.6" y2="371.3" stroke="#e02d2d" stroke-width="1.2"/>
<line x1="1001.5" x2="1001.5" y1="374.8" y2="377.5" stroke="#e02d2d" stroke-width="1.2"/>
<rect x="999.5" y="371.8" width="4.0" height="2.5" fill="#fffeea" stroke="#e02d2d" stroke-width="1.15"/>
<line x1="1008.5" x2="1008.5" y1="370.0" y2="389.4" stroke="#117311" stroke-width="1.2"/>
<rect x="1006.0" y="372.0" width="5.0" height="12.4" fill="#117311"/>
<line x1="1015.5" x2="1015.5" y1="381.3" y2="398.5" stroke="#117311" stroke-width="1.2"/>
<rect x="1013.0" y="383.0" width="5.0" height="11.8" fill="#117311"/>
<line x1="1021.5" x2="1021.5" y1="384.4" y2="395.0" stroke="#117311" stroke-width="1.2"/>
<rect x="1019.0" y="391.5" width="5.0" height="2.0" fill="#117311"/>
<line x1="1028.5" x2="1028.5" y1="389.4" y2="392.0" stroke="#e02d2d" stroke-width="1.2"/>
<line x1="1028.5" x2="1028.5" y1="393.5" y2="396.5" stroke="#e02d2d" stroke-width="1.2"/>
<rect x="1026.0" y="392.0" width="5.0" height="1.5" fill="#e02d2d"/>
<line x1="1035.5" x2="1035.5" y1="389.4" y2="409.0" stroke="#117311" stroke-width="1.2"/>
<rect x="1033.0" y="396.3" width="5.0" height="12.5" fill="#117311"/>
<line x1="1042.5" x2="1042.5" y1="386.3" y2="389.4" stroke="#e02d2d" stroke-width="1.2"/>
<line x1="1042.5" x2="1042.5" y1="410.0" y2="411.3" stroke="#e02d2d" stroke-width="1.2"/>
<rect x="1040.5" y="389.9" width="4.0" height="19.6" fill="#fffeea" stroke="#e02d2d" stroke-width="1.15"/>
<line x1="1049.5" x2="1049.5" y1="373.8" y2="374.4" stroke="#e02d2d" stroke-width="1.2"/>
<line x1="1049.5" x2="1049.5" y1="387.3" y2="395.0" stroke="#e02d2d" stroke-width="1.2"/>
<rect x="1047.5" y="374.9" width="4.0" height="11.9" fill="#fffeea" stroke="#e02d2d" stroke-width="1.15"/>
<line x1="1056.5" x2="1056.5" y1="362.5" y2="367.8" stroke="#e02d2d" stroke-width="1.2"/>
<line x1="1056.5" x2="1056.5" y1="371.5" y2="376.3" stroke="#e02d2d" stroke-width="1.2"/>
<rect x="1054.5" y="368.3" width="4.0" height="2.7" fill="#fffeea" stroke="#e02d2d" stroke-width="1.15"/>
<line x1="1063.5" x2="1063.5" y1="364.0" y2="372.5" stroke="#117311" stroke-width="1.2"/>
<rect x="1061.0" y="367.8" width="5.0" height="1.3" fill="#117311"/>
<line x1="1070.5" x2="1070.5" y1="355.0" y2="361.3" stroke="#e02d2d" stroke-width="1.2"/>
<line x1="1070.5" x2="1070.5" y1="367.0" y2="367.8" stroke="#e02d2d" stroke-width="1.2"/>
<rect x="1068.5" y="361.8" width="4.0" height="4.7" fill="#fffeea" stroke="#e02d2d" stroke-width="1.15"/>
<line x1="1077.5" x2="1077.5" y1="356.5" y2="364.4" stroke="#117311" stroke-width="1.2"/>
<rect x="1075.0" y="359.4" width="5.0" height="1.9" fill="#117311"/>
<line x1="1084.5" x2="1084.5" y1="357.5" y2="358.5" stroke="#e02d2d" stroke-width="1.2"/>
<line x1="1084.5" x2="1084.5" y1="360.6" y2="369.4" stroke="#e02d2d" stroke-width="1.2"/>
<rect x="1082.0" y="358.5" width="5.0" height="2.1" fill="#e02d2d"/>
<line x1="1091.5" x2="1091.5" y1="351.3" y2="360.6" stroke="#117311" stroke-width="1.2"/>
<rect x="1089.0" y="356.5" width="5.0" height="2.5" fill="#117311"/>
<line x1="1097.5" x2="1097.5" y1="353.5" y2="355.6" stroke="#e02d2d" stroke-width="1.2"/>
<line x1="1097.5" x2="1097.5" y1="357.8" y2="363.5" stroke="#e02d2d" stroke-width="1.2"/>
<rect x="1095.0" y="355.6" width="5.0" height="2.2" fill="#e02d2d"/>
<line x1="1104.5" x2="1104.5" y1="342.5" y2="344.4" stroke="#e02d2d" stroke-width="1.2"/>
<line x1="1104.5" x2="1104.5" y1="354.8" y2="357.0" stroke="#e02d2d" stroke-width="1.2"/>
<rect x="1102.5" y="344.9" width="4.0" height="9.4" fill="#fffeea" stroke="#e02d2d" stroke-width="1.15"/>
<line x1="1111.5" x2="1111.5" y1="344.4" y2="351.3" stroke="#117311" stroke-width="1.2"/>
<rect x="1109.0" y="345.3" width="5.0" height="2.7" fill="#117311"/>
<line x1="1118.5" x2="1118.5" y1="335.6" y2="336.5" stroke="#e02d2d" stroke-width="1.2"/>
<line x1="1118.5" x2="1118.5" y1="350.3" y2="355.0" stroke="#e02d2d" stroke-width="1.2"/>
<rect x="1116.5" y="337.0" width="4.0" height="12.8" fill="#fffeea" stroke="#e02d2d" stroke-width="1.15"/>
<line x1="1125.5" x2="1125.5" y1="322.0" y2="328.5" stroke="#e02d2d" stroke-width="1.2"/>
<line x1="1125.5" x2="1125.5" y1="337.3" y2="341.3" stroke="#e02d2d" stroke-width="1.2"/>
<rect x="1123.5" y="329.0" width="4.0" height="7.8" fill="#fffeea" stroke="#e02d2d" stroke-width="1.15"/>
<line x1="1132.5" x2="1132.5" y1="321.3" y2="338.8" stroke="#117311" stroke-width="1.2"/>
<rect x="1130.0" y="329.8" width="5.0" height="7.5" fill="#117311"/>
<line x1="1139.5" x2="1139.5" y1="332.8" y2="343.0" stroke="#117311" stroke-width="1.2"/>
<rect x="1137.0" y="336.3" width="5.0" height="4.3" fill="#117311"/>
<line x1="1146.5" x2="1146.5" y1="335.0" y2="342.0" stroke="#117311" stroke-width="1.2"/>
<rect x="1144.0" y="338.8" width="5.0" height="2.5" fill="#117311"/>
<line x1="1153.5" x2="1153.5" y1="325.6" y2="329.8" stroke="#e02d2d" stroke-width="1.2"/>
<line x1="1153.5" x2="1153.5" y1="341.9" y2="342.5" stroke="#e02d2d" stroke-width="1.2"/>
<rect x="1151.5" y="330.3" width="4.0" height="11.1" fill="#fffeea" stroke="#e02d2d" stroke-width="1.15"/>
<line x1="1160.5" x2="1160.5" y1="319.4" y2="327.3" stroke="#e02d2d" stroke-width="1.2"/>
<line x1="1160.5" x2="1160.5" y1="330.6" y2="332.5" stroke="#e02d2d" stroke-width="1.2"/>
<rect x="1158.5" y="327.8" width="4.0" height="2.3" fill="#fffeea" stroke="#e02d2d" stroke-width="1.15"/>
<line x1="1167.5" x2="1167.5" y1="323.5" y2="326.0" stroke="#e02d2d" stroke-width="1.2"/>
<line x1="1167.5" x2="1167.5" y1="327.5" y2="335.0" stroke="#e02d2d" stroke-width="1.2"/>
<rect x="1165.0" y="326.0" width="5.0" height="1.5" fill="#e02d2d"/>
<line x1="1173.5" x2="1173.5" y1="301.3" y2="304.8" stroke="#e02d2d" stroke-width="1.2"/>
<line x1="1173.5" x2="1173.5" y1="323.5" y2="325.0" stroke="#e02d2d" stroke-width="1.2"/>
<rect x="1171.5" y="305.3" width="4.0" height="17.7" fill="#fffeea" stroke="#e02d2d" stroke-width="1.15"/>
<line x1="1180.5" x2="1180.5" y1="296.3" y2="301.5" stroke="#e02d2d" stroke-width="1.2"/>
<line x1="1180.5" x2="1180.5" y1="303.0" y2="306.3" stroke="#e02d2d" stroke-width="1.2"/>
<rect x="1178.0" y="301.5" width="5.0" height="1.5" fill="#e02d2d"/>
<line x1="1187.5" x2="1187.5" y1="286.3" y2="286.5" stroke="#e02d2d" stroke-width="1.2"/>
<line x1="1187.5" x2="1187.5" y1="302.5" y2="302.8" stroke="#e02d2d" stroke-width="1.2"/>
<rect x="1185.5" y="287.0" width="4.0" height="15.0" fill="#fffeea" stroke="#e02d2d" stroke-width="1.15"/>
<line x1="1194.5" x2="1194.5" y1="264.4" y2="278.0" stroke="#e02d2d" stroke-width="1.2"/>
<line x1="1194.5" x2="1194.5" y1="281.9" y2="284.4" stroke="#e02d2d" stroke-width="1.2"/>
<rect x="1192.5" y="278.5" width="4.0" height="2.9" fill="#fffeea" stroke="#e02d2d" stroke-width="1.15"/>
<line x1="1201.5" x2="1201.5" y1="275.6" y2="292.3" stroke="#117311" stroke-width="1.2"/>
<rect x="1199.0" y="276.3" width="5.0" height="12.7" fill="#117311"/>
<line x1="1208.5" x2="1208.5" y1="284.4" y2="308.8" stroke="#117311" stroke-width="1.2"/>
<rect x="1206.0" y="290.6" width="5.0" height="6.9" fill="#117311"/>
<line x1="1215.5" x2="1215.5" y1="288.5" y2="292.3" stroke="#e02d2d" stroke-width="1.2"/>
<line x1="1215.5" x2="1215.5" y1="298.5" y2="303.5" stroke="#e02d2d" stroke-width="1.2"/>
<rect x="1213.5" y="292.8" width="4.0" height="5.2" fill="#fffeea" stroke="#e02d2d" stroke-width="1.15"/>
<line x1="1222.5" x2="1222.5" y1="289.0" y2="313.5" stroke="#117311" stroke-width="1.2"/>
<rect x="1220.0" y="289.8" width="5.0" height="23.2" fill="#117311"/>
<line x1="1229.5" x2="1229.5" y1="290.6" y2="298.0" stroke="#e02d2d" stroke-width="1.2"/>
<line x1="1229.5" x2="1229.5" y1="309.0" y2="309.4" stroke="#e02d2d" stroke-width="1.2"/>
<rect x="1227.5" y="298.5" width="4.0" height="10.0" fill="#fffeea" stroke="#e02d2d" stroke-width="1.15"/>
<line x1="1236.5" x2="1236.5" y1="285.0" y2="290.6" stroke="#e02d2d" stroke-width="1.2"/>
<line x1="1236.5" x2="1236.5" y1="295.0" y2="297.0" stroke="#e02d2d" stroke-width="1.2"/>
<rect x="1234.5" y="291.1" width="4.0" height="3.4" fill="#fffeea" stroke="#e02d2d" stroke-width="1.15"/>
<line x1="1243.5" x2="1243.5" y1="275.0" y2="275.3" stroke="#e02d2d" stroke-width="1.2"/>
<line x1="1243.5" x2="1243.5" y1="292.0" y2="292.5" stroke="#e02d2d" stroke-width="1.2"/>
<rect x="1241.5" y="275.8" width="4.0" height="15.7" fill="#fffeea" stroke="#e02d2d" stroke-width="1.15"/>
<line x1="1250.5" x2="1250.5" y1="267.0" y2="272.5" stroke="#e02d2d" stroke-width="1.2"/>
<line x1="1250.5" x2="1250.5" y1="273.8" y2="278.8" stroke="#e02d2d" stroke-width="1.2"/>
<rect x="1248.0" y="272.5" width="5.0" height="1.3" fill="#e02d2d"/>
<rect x="52.0" y="545.0" width="5.0" height="0.0" fill="#117311"/>
<rect x="59.0" y="545.0" width="5.0" height="0.0" fill="#e02d2d"/>
<rect x="66.0" y="545.0" width="5.0" height="0.0" fill="#117311"/>
<rect x="73.0" y="545.0" width="5.0" height="0.0" fill="#117311"/>
<rect x="80.0" y="545.0" width="5.0" height="0.0" fill="#e02d2d"/>
<rect x="87.0" y="544.2" width="5.0" height="0.8" fill="#117311"/>
<rect x="93.0" y="544.2" width="5.0" height="0.8" fill="#117311"/>
<rect x="100.0" y="544.2" width="5.0" height="0.8" fill="#e02d2d"/>
<rect x="107.0" y="544.2" width="5.0" height="0.8" fill="#e02d2d"/>
<rect x="114.0" y="544.2" width="5.0" height="0.8" fill="#117311"/>
<rect x="121.0" y="544.2" width="5.0" height="0.8" fill="#e02d2d"/>
<rect x="128.0" y="544.2" width="5.0" height="0.8" fill="#e02d2d"/>
<rect x="135.0" y="544.2" width="5.0" height="0.8" fill="#e02d2d"/>
<rect x="142.0" y="544.2" width="5.0" height="0.8" fill="#117311"/>
<rect x="149.0" y="544.2" width="5.0" height="0.8" fill="#117311"/>
<rect x="156.0" y="544.2" width="5.0" height="0.8" fill="#e02d2d"/>
<rect x="163.0" y="544.2" width="5.0" height="0.8" fill="#e02d2d"/>
<rect x="169.0" y="544.2" width="5.0" height="0.8" fill="#e02d2d"/>
<rect x="176.0" y="544.2" width="5.0" height="0.8" fill="#117311"/>
<rect x="183.0" y="544.2" width="5.0" height="0.8" fill="#e02d2d"/>
<rect x="190.0" y="544.2" width="5.0" height="0.8" fill="#117311"/>
<rect x="197.0" y="544.2" width="5.0" height="0.8" fill="#117311"/>
<rect x="204.0" y="544.2" width="5.0" height="0.8" fill="#117311"/>
<rect x="211.0" y="544.2" width="5.0" height="0.8" fill="#e02d2d"/>
<rect x="218.0" y="544.2" width="5.0" height="0.8" fill="#e02d2d"/>
<rect x="225.0" y="544.2" width="5.0" height="0.8" fill="#117311"/>
<rect x="232.0" y="544.2" width="5.0" height="0.8" fill="#e02d2d"/>
<rect x="239.0" y="544.2" width="5.0" height="0.8" fill="#117311"/>
<rect x="245.0" y="544.2" width="5.0" height="0.8" fill="#117311"/>
<rect x="252.0" y="544.2" width="5.0" height="0.8" fill="#117311"/>
<rect x="259.0" y="544.2" width="5.0" height="0.8" fill="#117311"/>
<rect x="266.0" y="544.2" width="5.0" height="0.8" fill="#e02d2d"/>
<rect x="273.0" y="544.2" width="5.0" height="0.8" fill="#e02d2d"/>
<rect x="280.0" y="544.2" width="5.0" height="0.8" fill="#e02d2d"/>
<rect x="287.0" y="544.2" width="5.0" height="0.8" fill="#117311"/>
<rect x="294.0" y="544.2" width="5.0" height="0.8" fill="#117311"/>
<rect x="301.0" y="544.2" width="5.0" height="0.8" fill="#117311"/>
<rect x="308.0" y="544.2" width="5.0" height="0.8" fill="#e02d2d"/>
<rect x="315.0" y="544.2" width="5.0" height="0.8" fill="#117311"/>
<rect x="322.0" y="544.2" width="5.0" height="0.8" fill="#e02d2d"/>
<rect x="328.0" y="544.2" width="5.0" height="0.8" fill="#e02d2d"/>
<rect x="335.0" y="544.2" width="5.0" height="0.8" fill="#117311"/>
<rect x="342.0" y="544.2" width="5.0" height="0.8" fill="#117311"/>
<rect x="349.0" y="544.2" width="5.0" height="0.8" fill="#e02d2d"/>
<rect x="356.0" y="544.2" width="5.0" height="0.8" fill="#e02d2d"/>
<rect x="363.0" y="544.2" width="5.0" height="0.8" fill="#e02d2d"/>
<rect x="370.0" y="544.2" width="5.0" height="0.8" fill="#e02d2d"/>
<rect x="377.0" y="544.2" width="5.0" height="0.8" fill="#117311"/>
<rect x="384.0" y="544.2" width="5.0" height="0.8" fill="#e02d2d"/>
<rect x="391.0" y="544.2" width="5.0" height="0.8" fill="#117311"/>
<rect x="398.0" y="544.2" width="5.0" height="0.8" fill="#117311"/>
<rect x="404.0" y="544.2" width="5.0" height="0.8" fill="#117311"/>
<rect x="411.0" y="544.2" width="5.0" height="0.8" fill="#117311"/>
<rect x="418.0" y="544.2" width="5.0" height="0.8" fill="#e02d2d"/>
<rect x="425.0" y="544.2" width="5.0" height="0.8" fill="#117311"/>
<rect x="432.0" y="544.2" width="5.0" height="0.8" fill="#117311"/>
<rect x="439.0" y="544.2" width="5.0" height="0.8" fill="#117311"/>
<rect x="446.0" y="544.2" width="5.0" height="0.8" fill="#e02d2d"/>
<rect x="453.0" y="544.2" width="5.0" height="0.8" fill="#117311"/>
<rect x="460.0" y="544.2" width="5.0" height="0.8" fill="#e02d2d"/>
<rect x="467.0" y="544.2" width="5.0" height="0.8" fill="#e02d2d"/>
<rect x="474.0" y="544.2" width="5.0" height="0.8" fill="#e02d2d"/>
<rect x="480.0" y="544.2" width="5.0" height="0.8" fill="#117311"/>
<rect x="487.0" y="544.2" width="5.0" height="0.8" fill="#117311"/>
<rect x="494.0" y="544.2" width="5.0" height="0.8" fill="#117311"/>
<rect x="501.0" y="544.2" width="5.0" height="0.8" fill="#117311"/>
<rect x="508.0" y="544.2" width="5.0" height="0.8" fill="#e02d2d"/>
<rect x="515.0" y="544.2" width="5.0" height="0.8" fill="#117311"/>
<rect x="522.0" y="544.2" width="5.0" height="0.8" fill="#e02d2d"/>
<rect x="529.0" y="544.2" width="5.0" height="0.8" fill="#117311"/>
<rect x="536.0" y="544.2" width="5.0" height="0.8" fill="#117311"/>
<rect x="543.0" y="544.2" width="5.0" height="0.8" fill="#e02d2d"/>
<rect x="550.0" y="544.2" width="5.0" height="0.8" fill="#117311"/>
<rect x="556.0" y="544.2" width="5.0" height="0.8" fill="#117311"/>
<rect x="563.0" y="544.2" width="5.0" height="0.8" fill="#117311"/>
<rect x="570.0" y="544.2" width="5.0" height="0.8" fill="#e02d2d"/>
<rect x="577.0" y="544.2" width="5.0" height="0.8" fill="#117311"/>
<rect x="584.0" y="544.2" width="5.0" height="0.8" fill="#e02d2d"/>
<rect x="591.0" y="544.2" width="5.0" height="0.8" fill="#117311"/>
<rect x="598.0" y="544.2" width="5.0" height="0.8" fill="#e02d2d"/>
<rect x="605.0" y="544.2" width="5.0" height="0.8" fill="#117311"/>
<rect x="612.0" y="544.2" width="5.0" height="0.8" fill="#e02d2d"/>
<rect x="619.0" y="544.2" width="5.0" height="0.8" fill="#117311"/>
<rect x="626.0" y="544.2" width="5.0" height="0.8" fill="#e02d2d"/>
<rect x="632.0" y="544.2" width="5.0" height="0.8" fill="#e02d2d"/>
<rect x="639.0" y="543.5" width="5.0" height="1.5" fill="#117311"/>
<rect x="646.0" y="544.0" width="5.0" height="1.0" fill="#e02d2d"/>
<rect x="653.0" y="544.0" width="5.0" height="1.0" fill="#117311"/>
<rect x="660.0" y="543.0" width="5.0" height="2.0" fill="#117311"/>
<rect x="667.0" y="544.0" width="5.0" height="1.0" fill="#e02d2d"/>
<rect x="674.0" y="540.4" width="5.0" height="4.6" fill="#117311"/>
<rect x="681.5" y="542.5" width="4.0" height="2.5" fill="#fff2e8" stroke="#e02d2d" stroke-width="1"/>
<rect x="688.5" y="542.5" width="4.0" height="2.5" fill="#fff2e8" stroke="#e02d2d" stroke-width="1"/>
<rect x="695.0" y="543.0" width="5.0" height="2.0" fill="#117311"/>
<rect x="702.0" y="543.0" width="5.0" height="2.0" fill="#e02d2d"/>
<rect x="708.0" y="540.6" width="5.0" height="4.4" fill="#117311"/>
<rect x="715.0" y="541.5" width="5.0" height="3.5" fill="#117311"/>
<rect x="722.0" y="539.7" width="5.0" height="5.3" fill="#117311"/>
<rect x="729.0" y="540.6" width="5.0" height="4.4" fill="#117311"/>
<rect x="736.0" y="538.7" width="5.0" height="6.3" fill="#117311"/>
<rect x="743.0" y="538.5" width="5.0" height="6.5" fill="#117311"/>
<rect x="750.5" y="537.0" width="4.0" height="8.0" fill="#fff2e8" stroke="#e02d2d" stroke-width="1"/>
<rect x="757.0" y="538.7" width="5.0" height="6.3" fill="#117311"/>
<rect x="764.5" y="542.0" width="4.0" height="3.0" fill="#fff2e8" stroke="#e02d2d" stroke-width="1"/>
<rect x="771.0" y="539.7" width="5.0" height="5.3" fill="#117311"/>
<rect x="778.5" y="540.1" width="4.0" height="4.9" fill="#fff2e8" stroke="#e02d2d" stroke-width="1"/>
<rect x="785.0" y="539.6" width="5.0" height="5.4" fill="#117311"/>
<rect x="791.0" y="538.7" width="5.0" height="6.3" fill="#117311"/>
<rect x="798.5" y="541.1" width="4.0" height="3.9" fill="#fff2e8" stroke="#e02d2d" stroke-width="1"/>
<rect x="805.0" y="539.6" width="5.0" height="5.4" fill="#117311"/>
<rect x="812.5" y="540.1" width="4.0" height="4.9" fill="#fff2e8" stroke="#e02d2d" stroke-width="1"/>
<rect x="819.0" y="537.5" width="5.0" height="7.5" fill="#117311"/>
<rect x="826.0" y="535.4" width="5.0" height="9.6" fill="#117311"/>
<rect x="833.5" y="534.2" width="4.0" height="10.8" fill="#fff2e8" stroke="#e02d2d" stroke-width="1"/>
<rect x="840.0" y="529.6" width="5.0" height="15.4" fill="#117311"/>
<rect x="847.0" y="534.0" width="5.0" height="11.0" fill="#117311"/>
<rect x="854.0" y="524.7" width="5.0" height="20.3" fill="#117311"/>
<rect x="861.5" y="521.1" width="4.0" height="23.9" fill="#fff2e8" stroke="#e02d2d" stroke-width="1"/>
<rect x="867.0" y="527.5" width="5.0" height="17.5" fill="#117311"/>
<rect x="874.5" y="532.1" width="4.0" height="12.9" fill="#fff2e8" stroke="#e02d2d" stroke-width="1"/>
<rect x="881.5" y="533.0" width="4.0" height="12.0" fill="#fff2e8" stroke="#e02d2d" stroke-width="1"/>
<rect x="888.5" y="527.1" width="4.0" height="17.9" fill="#fff2e8" stroke="#e02d2d" stroke-width="1"/>
<rect x="895.5" y="517.1" width="4.0" height="27.9" fill="#fff2e8" stroke="#e02d2d" stroke-width="1"/>
<rect x="902.0" y="528.0" width="5.0" height="17.0" fill="#117311"/>
<rect x="909.0" y="514.0" width="5.0" height="31.0" fill="#117311"/>
<rect x="916.0" y="511.6" width="5.0" height="33.4" fill="#117311"/>
<rect x="923.0" y="496.6" width="5.0" height="48.4" fill="#117311"/>
<rect x="930.0" y="498.1" width="5.0" height="46.9" fill="#117311"/>
<rect x="937.0" y="483.1" width="5.0" height="61.9" fill="#117311"/>
<rect x="943.0" y="476.9" width="5.0" height="68.1" fill="#117311"/>
<rect x="950.5" y="452.8" width="4.0" height="92.2" fill="#fff2e8" stroke="#e02d2d" stroke-width="1"/>
<rect x="957.0" y="477.5" width="5.0" height="67.5" fill="#117311"/>
<rect x="964.5" y="462.8" width="4.0" height="82.2" fill="#fff2e8" stroke="#e02d2d" stroke-width="1"/>
<rect x="971.0" y="479.4" width="5.0" height="65.6" fill="#117311"/>
<rect x="978.0" y="447.3" width="5.0" height="97.7" fill="#117311"/>
<rect x="985.5" y="471.8" width="4.0" height="73.2" fill="#fff2e8" stroke="#e02d2d" stroke-width="1"/>
<rect x="992.0" y="481.9" width="5.0" height="63.1" fill="#117311"/>
<rect x="999.5" y="465.9" width="4.0" height="79.1" fill="#fff2e8" stroke="#e02d2d" stroke-width="1"/>
<rect x="1006.0" y="468.5" width="5.0" height="76.5" fill="#117311"/>
<rect x="1013.0" y="470.4" width="5.0" height="74.6" fill="#117311"/>
<rect x="1019.0" y="474.1" width="5.0" height="70.9" fill="#117311"/>
<rect x="1026.5" y="483.0" width="4.0" height="62.0" fill="#fff2e8" stroke="#e02d2d" stroke-width="1"/>
<rect x="1033.0" y="496.0" width="5.0" height="49.0" fill="#117311"/>
<rect x="1040.5" y="458.6" width="4.0" height="86.4" fill="#fff2e8" stroke="#e02d2d" stroke-width="1"/>
<rect x="1047.5" y="441.8" width="4.0" height="103.2" fill="#fff2e8" stroke="#e02d2d" stroke-width="1"/>
<rect x="1054.5" y="449.0" width="4.0" height="96.0" fill="#fff2e8" stroke="#e02d2d" stroke-width="1"/>
<rect x="1061.5" y="478.6" width="4.0" height="66.4" fill="#fff2e8" stroke="#e02d2d" stroke-width="1"/>
<rect x="1068.5" y="462.8" width="4.0" height="82.2" fill="#fff2e8" stroke="#e02d2d" stroke-width="1"/>
<rect x="1075.0" y="482.5" width="5.0" height="62.5" fill="#117311"/>
<rect x="1082.5" y="469.9" width="4.0" height="75.1" fill="#fff2e8" stroke="#e02d2d" stroke-width="1"/>
<rect x="1089.0" y="475.3" width="5.0" height="69.7" fill="#117311"/>
<rect x="1095.5" y="477.0" width="4.0" height="68.0" fill="#fff2e8" stroke="#e02d2d" stroke-width="1"/>
<rect x="1102.5" y="459.0" width="4.0" height="86.0" fill="#fff2e8" stroke="#e02d2d" stroke-width="1"/>
<rect x="1109.0" y="489.4" width="5.0" height="55.6" fill="#117311"/>
<rect x="1116.5" y="473.0" width="4.0" height="72.0" fill="#fff2e8" stroke="#e02d2d" stroke-width="1"/>
<rect x="1123.5" y="453.3" width="4.0" height="91.7" fill="#fff2e8" stroke="#e02d2d" stroke-width="1"/>
<rect x="1130.0" y="472.5" width="5.0" height="72.5" fill="#117311"/>
<rect x="1137.0" y="486.0" width="5.0" height="59.0" fill="#117311"/>
<rect x="1144.0" y="481.3" width="5.0" height="63.7" fill="#117311"/>
<rect x="1151.5" y="476.5" width="4.0" height="68.5" fill="#fff2e8" stroke="#e02d2d" stroke-width="1"/>
<rect x="1158.5" y="483.0" width="4.0" height="62.0" fill="#fff2e8" stroke="#e02d2d" stroke-width="1"/>
<rect x="1165.5" y="479.0" width="4.0" height="66.0" fill="#fff2e8" stroke="#e02d2d" stroke-width="1"/>
<rect x="1171.5" y="441.8" width="4.0" height="103.2" fill="#fff2e8" stroke="#e02d2d" stroke-width="1"/>
<rect x="1178.5" y="474.0" width="4.0" height="71.0" fill="#fff2e8" stroke="#e02d2d" stroke-width="1"/>
<rect x="1185.5" y="483.0" width="4.0" height="62.0" fill="#fff2e8" stroke="#e02d2d" stroke-width="1"/>
<rect x="1192.5" y="499.9" width="4.0" height="45.1" fill="#fff2e8" stroke="#e02d2d" stroke-width="1"/>
<rect x="1199.0" y="477.8" width="5.0" height="67.2" fill="#117311"/>
<rect x="1206.0" y="455.3" width="5.0" height="89.7" fill="#117311"/>
<rect x="1213.5" y="472.4" width="4.0" height="72.6" fill="#fff2e8" stroke="#e02d2d" stroke-width="1"/>
<rect x="1220.0" y="458.5" width="5.0" height="86.5" fill="#117311"/>
<rect x="1227.5" y="457.8" width="4.0" height="87.2" fill="#fff2e8" stroke="#e02d2d" stroke-width="1"/>
<rect x="1234.5" y="469.0" width="4.0" height="76.0" fill="#fff2e8" stroke="#e02d2d" stroke-width="1"/>
<rect x="1241.5" y="456.8" width="4.0" height="88.2" fill="#fff2e8" stroke="#e02d2d" stroke-width="1"/>
<rect x="1248.5" y="458.8" width="4.0" height="86.2" fill="#fff2e8" stroke="#e02d2d" stroke-width="1"/>
<polyline points="86.0,544.3 636.0,544.3 673.8,538.8 680.0,536.5 780.0,524.0 788.5,520.3 800.0,519.0 817.0,517.5 826.0,514.4 841.0,506.3 856.0,500.3 863.5,501.3 869.8,499.4 876.0,500.6 904.8,496.3 908.5,491.9 918.5,486.3 928.0,478.0 936.0,471.9 940.5,469.4 951.8,461.9 959.3,461.3 966.1,456.3 973.6,460.0 980.5,460.6 988.0,466.3 994.3,463.8 1000.5,462.9 1008.0,462.9 1015.5,450.0 1021.8,448.5 1028.6,452.5 1035.5,440.6 1043.0,456.9 1053.0,460.6 1063.4,462.3 1070.5,463.8 1076.8,466.0 1084.3,462.5 1096.3,461.0 1104.4,453.0 1111.3,458.8 1125.6,461.3 1138.8,464.4 1146.3,463.5 1166.3,465.3 1174.0,457.3 1187.5,473.5 1205.0,465.0 1215.0,464.4 1222.5,461.3 1230.0,460.8 1242.5,453.7 1249.0,453.3" fill="none" stroke="#2b2b2b" stroke-width="1" />
<polyline points="54.5,585.8 61.4,582.9 68.3,585.7 75.2,597.1 82.1,596.7 89.1,598.0 96.0,600.9 102.9,598.9 109.8,598.0 116.7,607.3 123.6,606.3 130.5,601.7 137.4,596.9 144.3,599.1 151.2,606.4 158.2,605.9 165.1,602.2 172.0,598.8 178.9,606.3 185.8,604.3 192.7,614.7 199.6,616.5 206.5,618.6 213.4,615.0 220.3,614.1 227.3,621.4 234.2,608.3 241.1,611.4 248.0,617.2 254.9,619.3 261.8,620.1 268.7,619.4 275.6,616.3 282.5,614.6 289.5,617.5 296.4,612.9 303.3,611.7 310.2,610.1 317.1,612.4 324.0,608.6 330.9,607.5 337.8,617.6 344.7,622.4 351.6,616.0 358.6,609.5 365.5,605.3 372.4,604.4 379.3,606.9 386.2,604.5 393.1,611.3 400.0,616.1 406.9,618.6 413.8,616.0 420.8,609.8 427.7,607.2 434.6,612.1 441.5,617.0 448.4,613.9 455.3,617.6 462.2,615.0 469.1,613.6 476.0,613.0 482.9,619.8 489.9,625.2 496.8,628.9 503.7,631.0 510.6,629.3 517.5,632.1 524.4,629.3 531.3,627.6 538.2,629.1 545.1,622.3 552.0,623.2 559.0,626.0 565.9,626.8 572.8,621.2 579.7,622.3 586.6,616.4 593.5,615.9 600.4,614.4 607.3,619.2 614.2,617.7 621.2,622.9 628.1,614.0 635.0,609.6 641.9,618.7 648.8,611.7 655.7,614.8 662.6,620.1 669.5,618.2 676.4,623.2 683.3,615.9 690.3,613.7 697.2,617.1 704.1,615.6 711.0,618.9 717.9,624.9 724.8,627.3 731.7,626.9 738.6,628.3 745.5,630.4 752.5,622.7 759.4,625.5 766.3,621.7 773.2,625.0 780.1,624.7 787.0,626.7 793.9,630.5 800.8,627.4 807.7,630.4 814.6,624.7 821.6,627.4 828.5,628.9 835.4,627.9 842.3,631.1 849.2,634.2 856.1,637.2 863.0,636.1 869.9,637.8 876.8,632.7 883.7,631.6 890.7,624.5 897.6,621.5 904.5,620.4 911.4,623.4 918.3,624.9 925.2,626.8 932.1,627.6 939.0,629.3 945.9,628.9 952.9,625.1 959.8,626.4 966.7,616.0 973.6,617.5 980.5,622.2 987.4,618.8 994.3,620.2 1001.2,616.3 1008.1,622.3 1015.0,626.3 1022.0,625.5 1028.9,624.4 1035.8,630.7 1042.7,618.8 1049.6,611.6 1056.5,608.8 1063.4,609.3 1070.3,606.0 1077.2,606.0 1084.2,604.7 1091.1,605.0 1098.0,603.3 1104.9,598.2 1111.8,600.8 1118.7,595.9 1125.6,592.9 1132.5,599.2 1139.4,601.4 1146.3,601.9 1153.3,596.8 1160.2,595.8 1167.1,595.2 1174.0,587.8 1180.9,586.8 1187.8,583.0 1194.7,581.1 1201.6,589.4 1208.5,595.1 1215.4,593.4 1222.4,605.4 1229.3,600.1 1236.2,597.7 1243.1,593.3 1250.0,592.5" fill="none" stroke="#34348c" stroke-width="1" />
<polyline points="54.5,578.6 61.4,575.0 68.3,580.5 75.2,601.1 82.1,600.4 89.1,602.6 96.0,608.1 102.9,603.3 109.8,601.0 116.7,618.4 123.6,615.9 130.5,604.7 137.4,594.9 144.3,599.6 151.2,613.3 158.2,612.3 165.1,603.6 172.0,596.6 178.9,611.4 185.8,607.2 192.7,624.8 199.6,627.4 206.5,630.5 213.4,622.1 220.3,620.0 227.3,632.1 234.2,606.3 241.1,611.9 248.0,621.7 254.9,625.1 261.8,626.5 268.7,624.9 275.6,617.8 282.5,614.0 289.5,620.4 296.4,610.1 303.3,607.7 310.2,604.1 317.1,610.2 324.0,601.9 330.9,599.6 337.8,622.8 344.7,631.1 351.6,617.4 358.6,605.2 365.5,598.2 372.4,596.6 379.3,602.4 386.2,598.0 393.1,612.7 400.0,621.7 406.9,625.9 413.8,620.0 420.8,607.2 427.7,602.3 434.6,612.6 441.5,621.9 448.4,615.3 455.3,622.3 462.2,616.7 469.1,613.7 476.0,612.3 482.9,626.5 489.9,635.3 496.8,640.4 503.7,643.1 510.6,639.0 517.5,643.1 524.4,636.3 531.3,632.3 538.2,635.2 545.1,619.4 552.0,621.6 559.0,627.9 565.9,629.8 572.8,616.7 579.7,619.6 586.6,607.1 593.5,606.1 600.4,603.1 607.3,616.7 614.2,613.2 621.2,625.7 628.1,607.2 635.0,599.7 641.9,618.9 648.8,606.7 655.7,612.9 662.6,622.5 669.5,618.9 676.4,627.7 683.3,613.9 690.3,610.1 697.2,616.9 704.1,613.8 711.0,620.6 717.9,631.4 724.8,635.2 731.7,634.3 738.6,636.6 745.5,639.9 752.5,622.3 759.4,628.0 766.3,620.0 773.2,626.9 780.1,626.2 787.0,630.4 793.9,637.5 800.8,630.2 807.7,636.1 814.6,623.5 821.6,629.1 828.5,632.2 835.4,629.8 842.3,636.3 849.2,641.7 856.1,646.1 863.0,643.5 869.9,646.1 876.8,634.2 883.7,631.7 890.7,616.5 897.6,610.8 904.5,608.6 911.4,617.4 918.3,621.2 925.2,626.1 932.1,628.2 939.0,632.2 945.9,631.2 952.9,621.1 959.8,624.7 966.7,602.3 973.6,606.6 980.5,619.3 987.4,612.1 994.3,615.8 1001.2,607.7 1008.1,622.3 1015.0,630.3 1022.0,628.4 1028.9,625.9 1035.8,637.8 1042.7,614.4 1049.6,602.8 1056.5,598.5 1063.4,599.7 1070.3,594.5 1077.2,594.5 1084.2,592.3 1091.1,593.2 1098.0,590.2 1104.9,582.3 1111.8,589.5 1118.7,582.1 1125.6,578.4 1132.5,593.5 1139.4,598.5 1146.3,599.7 1153.3,589.7 1160.2,587.9 1167.1,586.9 1174.0,576.1 1180.9,575.0 1187.8,571.1 1194.7,569.4 1201.6,586.6 1208.5,597.5 1215.4,594.0 1222.4,614.7 1229.3,603.7 1236.2,599.1 1243.1,591.3 1250.0,590.0" fill="none" stroke="#222" stroke-width="1" />
<line x1="51.5" x2="51.5" y1="76" y2="663" stroke="#8f8f7c" stroke-width="1"/>
<line x1="0" x2="1280" y1="76.5" y2="76.5" stroke="#b5b5a2" stroke-width="1"/>
<line x1="51.5" x2="1280" y1="424.6" y2="424.6" stroke="#9d9d89" stroke-width="1.1"/>
<line x1="51.5" x2="1280" y1="545.4" y2="545.4" stroke="#9d9d89" stroke-width="1.1"/>
<line x1="51.5" x2="1280" y1="663.4" y2="663.4" stroke="#9d9d89" stroke-width="1.1"/>
<line x1="1247.5" x2="1247.5" y1="417" y2="424" stroke="#8f8f7c" stroke-width="1"/>
<line x1="1247.5" x2="1247.5" y1="538" y2="545" stroke="#8f8f7c" stroke-width="1"/>
<line x1="1247.5" x2="1247.5" y1="656" y2="663" stroke="#8f8f7c" stroke-width="1"/>
</svg>
<div class="t" style="left:63px;top:14.5px;font-size:22.5px;font-weight:bold;color:#fff;transform:scaleX(1.335);transform-origin:0 0;">国元期货</div>
<div class="t" style="left:64px;top:39.5px;font-size:10.4px;color:#fff;letter-spacing:1.0px;-webkit-text-stroke:0.3px #fff;">GUOYUAN FUTURES</div>
<div class="t" style="left:274px;top:16.5px;font-size:28px;font-weight:bold;color:#fff;">沪镍1905合约</div>

<div class="t" style="left:26px;top:62px;font-size:12px;color:#222;font-family:'Liberation Serif','Noto Serif CJK SC',serif;letter-spacing:0.15px;">沪镍1905(SHFE ni1905)</div>
<div class="t" style="left:162.5px;top:62px;font-size:12px;color:#222;font-family:'Liberation Sans','Noto Sans CJK SC',sans-serif;">日线</div>

<div class="t v" style="left:56px;top:77px;color:#333399;letter-spacing:0.22px;">MA组合(5,10,20,40,60,0)</div>
<div class="t v" style="left:215.5px;top:77px;color:#333;">MA5 99178.00</div>
<div class="t v" style="left:313.5px;top:77px;color:#333399;">MA10 99211.00</div>
<div class="t v" style="left:417px;top:77px;color:#f040f0;">MA20 97143.00</div>
<div class="t v" style="left:522.5px;top:77px;color:#2f8a2f;">MA40 93646.25</div>
<div class="t v" style="left:627px;top:77px;color:#8a8a8a;">MA60 92408.34</div>

<div class="t ax" style="left:9px;top:92px;">120000</div>
<div class="t ax" style="left:9px;top:277px;">100000</div>
<div class="t ax" style="left:23px;top:487px;">36万</div>
<div class="t ax" style="left:35px;top:575px;">80</div>
<div class="t ax" style="left:35px;top:606px;">50</div>
<div class="t ax" style="left:35px;top:637px;">20</div>

<div class="t v" style="left:51.5px;top:91px;color:#d62a2a;">119440</div>
<div class="t v" style="left:425px;top:120px;color:#d62a2a;">116200</div>
<div class="t v" style="left:1172px;top:252px;color:#d62a2a;">101950</div>
<div class="t v" style="left:1024px;top:411px;color:#2f8a2f;">86080</div>
<div class="t v" style="left:53px;top:412px;color:#333399;">174天</div>

<div class="t v" style="left:57px;top:427px;color:#333399;">CJL</div>
<div class="t v" style="left:94px;top:427px;color:#333;">579942.00(51:49)</div>
<div class="t v" style="left:212px;top:427px;color:#333;">OPID 324502.00</div>

<div class="t v" style="left:57px;top:548px;color:#333399;">RSI(7,14)</div>
<div class="t v" style="left:128px;top:548px;color:#333;">RSI1 70.96</div>
<div class="t v" style="left:206px;top:548px;color:#333399;">RSI2 68.61</div>

<div class="t dt" style="left:160px;top:666px;">2018/07</div>
<div class="t dt" style="left:470px;top:666px;">2018/09</div>
<div class="t dt" style="left:725.5px;top:666px;">2018/11</div>
<div class="t dt" style="left:1015.5px;top:666px;">2019/01</div>
<div class="t dt" style="left:1230px;top:666px;">2019/02</div>

<svg width="1280" height="720" viewBox="0 0 1280 720" style="z-index:5"><line x1="1017.5" y1="424" x2="1281" y2="283.3" stroke="#e8121e" stroke-width="3.4"/></svg>
<div id="note">沪镍1905合约今日小幅震荡。市场今<br>日做多力度减弱，关注102000元附近<br>表现。</div>

<div class="t ft" style="left:32px;top:686px;font-size:10.6px;">团结、敬业、求实、创新</div>
<div class="t ft" style="left:32px;top:700px;font-size:8.9px;transform:scaleY(1.18);transform-origin:0 50%;">Solidarity, Professionalism, Factualism,Innovation</div>
<div class="t ft" style="right:43px;top:686px;font-size:10.6px;"><span>全国统一客户热线：</span><span style="font-size:8.9px;display:inline-block;transform:scaleY(1.18);transform-origin:0 60%;">400-8888-218</span></div>
<div class="t ft" style="right:43px;top:700px;font-size:8.9px;transform:scaleY(1.18);transform-origin:0 50%;">www.guoyuanqh.com</div>
</body></html>
